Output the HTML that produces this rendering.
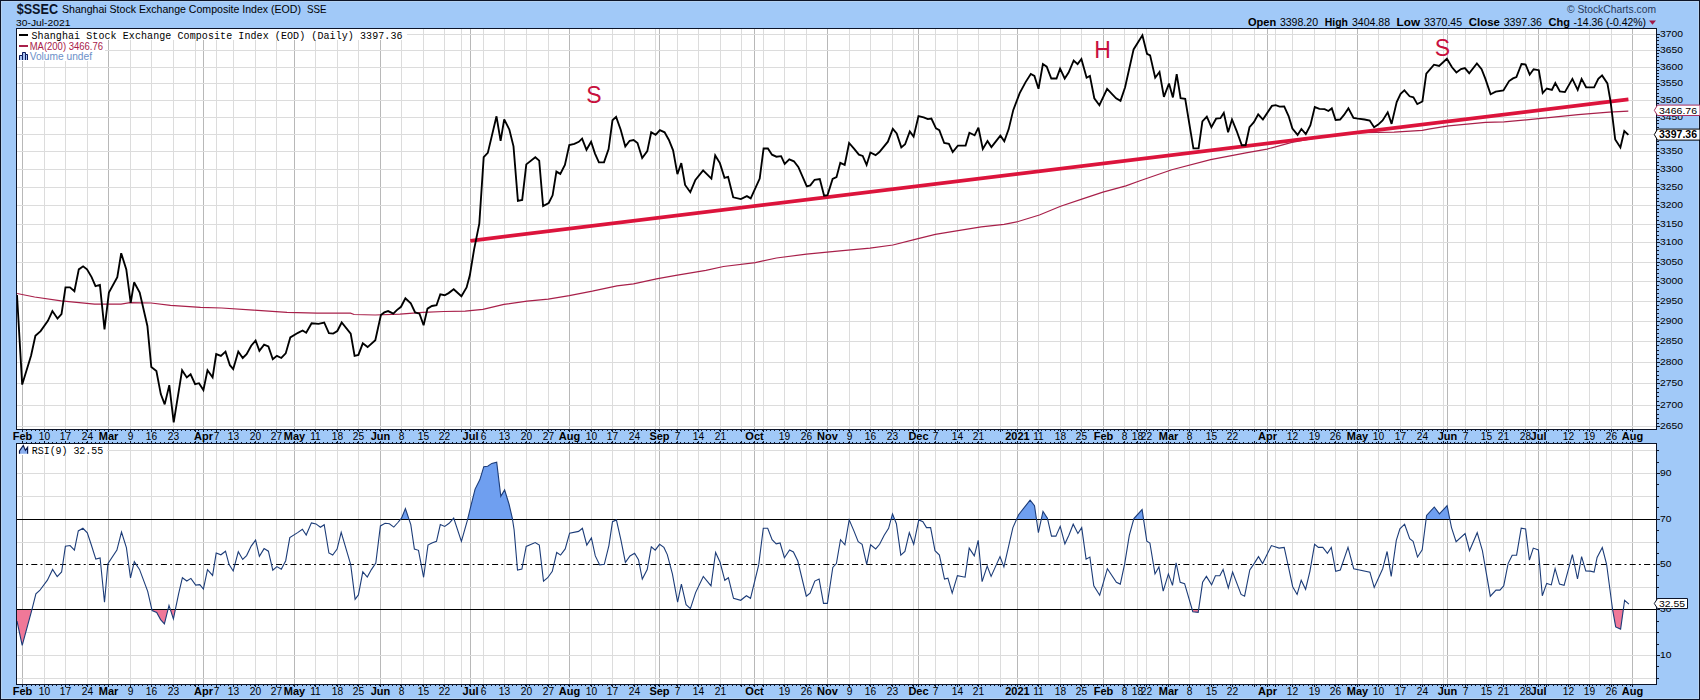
<!DOCTYPE html><html><head><meta charset="utf-8"><style>html,body{margin:0;padding:0;width:1700px;height:700px;overflow:hidden;background:#a1c9f8}svg{display:block}text{font-family:"Liberation Sans",sans-serif}.m{font-family:"Liberation Mono",monospace}</style></head><body>
<svg width="1700" height="700" viewBox="0 0 1700 700">
<defs><clipPath id="cp"><rect x="17" y="29" width="1639" height="400"/></clipPath><clipPath id="cr"><rect x="17" y="444" width="1639" height="240"/></clipPath><clipPath id="c70"><rect x="17" y="444" width="1639" height="75"/></clipPath><clipPath id="c30"><rect x="17" y="609.5" width="1639" height="74.5"/></clipPath></defs>
<rect x="0" y="0" width="1700" height="700" fill="#a1c9f8"/>
<rect x="0.5" y="0.5" width="1699" height="699" fill="none" stroke="#0c1428" stroke-width="1"/>
<rect x="1.5" y="1.5" width="1697" height="697" fill="none" stroke="#b6d2f0" stroke-width="1"/>
<rect x="16" y="28" width="1640" height="401" fill="#ffffff"/>
<rect x="16" y="443" width="1640" height="241" fill="#ffffff"/>
<path d="M44.5,28 V429 M44.5,443 V684 M65.5,28 V429 M65.5,443 V684 M87.5,28 V429 M87.5,443 V684 M130.5,28 V429 M130.5,443 V684 M151.5,28 V429 M151.5,443 V684 M173.5,28 V429 M173.5,443 V684 M195.5,28 V429 M195.5,443 V684 M216.5,28 V429 M216.5,443 V684 M233.5,28 V429 M233.5,443 V684 M255.5,28 V429 M255.5,443 V684 M276.5,28 V429 M276.5,443 V684 M315.5,28 V429 M315.5,443 V684 M337.5,28 V429 M337.5,443 V684 M358.5,28 V429 M358.5,443 V684 M401.5,28 V429 M401.5,443 V684 M423.5,28 V429 M423.5,443 V684 M444.5,28 V429 M444.5,443 V684 M461.5,28 V429 M461.5,443 V684 M483.5,28 V429 M483.5,443 V684 M504.5,28 V429 M504.5,443 V684 M526.5,28 V429 M526.5,443 V684 M548.5,28 V429 M548.5,443 V684 M591.5,28 V429 M591.5,443 V684 M612.5,28 V429 M612.5,443 V684 M634.5,28 V429 M634.5,443 V684 M655.5,28 V429 M655.5,443 V684 M677.5,28 V429 M677.5,443 V684 M698.5,28 V429 M698.5,443 V684 M720.5,28 V429 M720.5,443 V684 M741.5,28 V429 M741.5,443 V684 M763.5,28 V429 M763.5,443 V684 M784.5,28 V429 M784.5,443 V684 M806.5,28 V429 M806.5,443 V684 M849.5,28 V429 M849.5,443 V684 M870.5,28 V429 M870.5,443 V684 M892.5,28 V429 M892.5,443 V684 M913.5,28 V429 M913.5,443 V684 M935.5,28 V429 M935.5,443 V684 M957.5,28 V429 M957.5,443 V684 M978.5,28 V429 M978.5,443 V684 M1000.5,28 V429 M1000.5,443 V684 M1038.5,28 V429 M1038.5,443 V684 M1060.5,28 V429 M1060.5,443 V684 M1081.5,28 V429 M1081.5,443 V684 M1124.5,28 V429 M1124.5,443 V684 M1137.5,28 V429 M1137.5,443 V684 M1146.5,28 V429 M1146.5,443 V684 M1189.5,28 V429 M1189.5,443 V684 M1211.5,28 V429 M1211.5,443 V684 M1232.5,28 V429 M1232.5,443 V684 M1254.5,28 V429 M1254.5,443 V684 M1275.5,28 V429 M1275.5,443 V684 M1292.5,28 V429 M1292.5,443 V684 M1314.5,28 V429 M1314.5,443 V684 M1335.5,28 V429 M1335.5,443 V684 M1378.5,28 V429 M1378.5,443 V684 M1400.5,28 V429 M1400.5,443 V684 M1422.5,28 V429 M1422.5,443 V684 M1443.5,28 V429 M1443.5,443 V684 M1465.5,28 V429 M1465.5,443 V684 M1486.5,28 V429 M1486.5,443 V684 M1503.5,28 V429 M1503.5,443 V684 M1525.5,28 V429 M1525.5,443 V684 M1546.5,28 V429 M1546.5,443 V684 M1568.5,28 V429 M1568.5,443 V684 M1589.5,28 V429 M1589.5,443 V684 M1611.5,28 V429 M1611.5,443 V684" stroke="#dcdcdc" stroke-width="1" fill="none"/>
<path d="M22.5,28 V429 M22.5,443 V684 M108.5,28 V429 M108.5,443 V684 M203.5,28 V429 M203.5,443 V684 M294.5,28 V429 M294.5,443 V684 M380.5,28 V429 M380.5,443 V684 M470.5,28 V429 M470.5,443 V684 M569.5,28 V429 M569.5,443 V684 M659.5,28 V429 M659.5,443 V684 M754.5,28 V429 M754.5,443 V684 M827.5,28 V429 M827.5,443 V684 M918.5,28 V429 M918.5,443 V684 M1017.5,28 V429 M1017.5,443 V684 M1103.5,28 V429 M1103.5,443 V684 M1168.5,28 V429 M1168.5,443 V684 M1267.5,28 V429 M1267.5,443 V684 M1357.5,28 V429 M1357.5,443 V684 M1447.5,28 V429 M1447.5,443 V684 M1538.5,28 V429 M1538.5,443 V684 M1632.5,28 V429 M1632.5,443 V684" stroke="#b8b8b8" stroke-width="1" fill="none"/>
<path d="M16,426.5 H1656 M16,405.5 H1656 M16,383.5 H1656 M16,362.5 H1656 M16,341.5 H1656 M16,321.5 H1656 M16,301.5 H1656 M16,281.5 H1656 M16,262.5 H1656 M16,242.5 H1656 M16,224.5 H1656 M16,205.5 H1656 M16,187.5 H1656 M16,169.5 H1656 M16,151.5 H1656 M16,134.5 H1656 M16,117.5 H1656 M16,100.5 H1656 M16,83.5 H1656 M16,67.5 H1656 M16,50.5 H1656 M16,34.5 H1656" stroke="#dcdcdc" stroke-width="1" fill="none"/>
<path d="M16,473.5 H1656 M16,496.5 H1656 M16,542.5 H1656 M16,587.5 H1656 M16,632.5 H1656 M16,655.5 H1656 M16,450.5 H1656 M16,678.5 H1656" stroke="#dcdcdc" stroke-width="1" fill="none"/>
<rect x="17" y="29" width="390" height="11" fill="#fff"/>
<rect x="17" y="40" width="88" height="21" fill="#fff"/>
<rect x="17" y="444" width="90" height="11" fill="#fff"/>
<path clip-path="url(#cp)" d="M17.0,293.5 L34.6,297.0 L61.1,300.9 L94.6,304.1 L121.1,304.1 L129.9,302.6 L151.1,303.0 L170.5,305.3 L200.5,307.4 L221.7,308.0 L253.5,310.1 L287.0,312.4 L317.0,313.2 L350.5,313.2 L354.1,314.5 L375.2,315.0 L399.9,314.1 L422.9,312.4 L444.0,311.5 L465.2,311.1 L482.9,309.4 L504.0,304.4 L527.0,301.2 L548.2,299.1 L569.3,295.6 L592.3,291.2 L617.0,285.9 L633.5,283.8 L656.5,278.8 L675.9,275.3 L705.9,270.4 L723.5,266.5 L755.3,262.6 L776.5,258.0 L806.5,254.1 L840.0,250.8 L870.0,248.2 L892.9,245.0 L914.1,239.7 L935.3,234.4 L956.5,230.9 L981.2,226.8 L1004.1,224.4 L1018.2,221.5 L1039.4,215.0 L1060.6,206.2 L1081.8,199.1 L1102.9,192.1 L1125.9,185.9 L1140.0,180.7 L1171.8,169.7 L1210.6,159.6 L1245.9,152.9 L1267.0,149.1 L1291.8,142.4 L1316.5,137.9 L1334.1,135.3 L1360.6,132.6 L1394.1,132.1 L1422.3,130.4 L1430.0,128.9 L1448.5,125.8 L1485.6,122.4 L1504.1,121.9 L1538.7,118.7 L1578.2,114.7 L1609.1,112.2 L1628.3,111.2" stroke="#a8204a" stroke-width="1.2" fill="none"/>
<line x1="470.3" y1="240.8" x2="1628.4" y2="99.4" stroke="#dc143c" stroke-width="3.8" stroke-linecap="butt"/>
<path clip-path="url(#cp)" d="M17.0,295.0 L22.2,384.6 L31.1,355.4 L35.4,335.7 L40.6,331.1 L47.9,320.9 L52.4,311.1 L57.5,318.5 L61.5,314.1 L65.5,287.3 L70.0,287.3 L74.4,291.2 L78.8,269.4 L83.1,266.3 L87.0,269.4 L91.6,277.1 L95.5,286.1 L99.9,284.9 L104.5,329.3 L108.9,292.6 L117.3,277.1 L121.2,253.2 L126.3,269.4 L130.7,302.9 L134.1,282.3 L139.7,292.6 L147.4,326.0 L151.3,367.1 L156.4,371.0 L160.8,394.1 L164.7,404.4 L169.3,385.1 L173.7,422.4 L182.1,370.2 L186.8,377.4 L190.6,374.3 L195.1,384.2 L199.0,383.2 L203.4,390.1 L207.5,370.3 L212.6,377.3 L216.2,354.1 L220.9,355.9 L225.5,351.6 L229.9,365.2 L233.2,369.1 L238.3,351.6 L242.7,358.0 L246.6,354.1 L251.2,345.7 L255.6,340.5 L259.4,350.8 L264.1,344.6 L268.4,346.4 L272.8,359.3 L276.9,355.9 L281.3,358.0 L285.7,353.4 L290.3,337.4 L298.0,332.8 L302.6,330.5 L306.2,332.8 L311.6,323.3 L318.6,323.8 L324.2,322.5 L328.9,333.1 L333.2,333.6 L337.3,331.0 L341.7,322.5 L350.7,333.6 L354.6,355.9 L358.4,354.9 L362.8,343.3 L367.6,347.1 L375.3,340.2 L380.9,315.0 L384.3,312.4 L388.1,311.1 L393.3,313.7 L397.1,309.9 L401.0,306.8 L405.4,298.3 L410.8,303.4 L415.1,312.4 L419.5,313.7 L423.6,325.3 L427.5,308.6 L431.9,306.0 L436.5,305.2 L440.3,294.4 L444.7,295.2 L448.6,293.1 L453.7,289.3 L461.4,296.2 L466.6,287.5 L469.9,275.1 L474.1,249.3 L479.3,223.6 L483.7,157.2 L487.8,152.9 L496.5,116.3 L500.6,140.8 L504.2,119.4 L509.4,129.7 L513.5,146.4 L517.9,200.9 L522.2,199.9 L526.3,164.4 L535.3,157.2 L539.2,160.6 L543.1,206.1 L548.7,203.0 L552.6,195.3 L556.4,171.6 L560.3,173.9 L564.9,164.9 L569.3,145.1 L574.4,143.9 L578.8,141.8 L582.1,138.7 L586.5,149.8 L591.1,141.8 L595.0,153.6 L598.9,162.4 L604.0,162.4 L608.6,149.0 L612.5,120.2 L616.1,116.9 L620.7,129.7 L625.3,146.4 L629.7,140.8 L633.6,140.0 L637.5,143.0 L642.2,158.0 L647.3,151.1 L651.2,132.3 L655.6,134.9 L659.9,130.2 L664.6,132.3 L668.9,140.0 L673.1,150.3 L677.4,174.2 L681.3,163.1 L685.1,185.0 L690.3,192.2 L695.4,179.9 L703.1,170.3 L711.4,178.6 L715.2,155.4 L719.9,163.1 L724.5,177.8 L728.1,176.8 L733.2,197.3 L740.9,199.1 L746.9,196.1 L750.7,198.4 L759.7,178.6 L763.6,148.5 L767.9,148.5 L772.0,154.7 L776.4,156.7 L781.1,156.2 L784.7,163.9 L789.3,159.3 L793.9,161.3 L798.3,167.0 L806.8,186.3 L810.3,185.4 L814.6,179.8 L819.8,179.0 L824.1,195.7 L827.5,195.2 L832.6,179.0 L836.5,177.2 L840.3,162.8 L844.7,164.9 L849.1,143.0 L854.2,148.9 L858.9,154.6 L862.7,155.9 L866.6,164.9 L870.4,152.5 L875.6,155.1 L879.4,152.0 L887.9,141.7 L892.8,128.9 L896.7,133.5 L901.3,147.4 L905.1,144.3 L909.8,131.4 L913.6,136.6 L918.5,116.0 L923.7,117.3 L927.8,119.1 L931.4,118.6 L936.0,128.3 L939.3,130.1 L944.2,143.0 L948.9,143.8 L952.7,152.0 L957.9,145.6 L965.6,145.6 L969.4,132.7 L974.6,135.3 L978.4,127.6 L982.8,148.9 L987.5,141.0 L991.4,147.1 L1000.4,135.6 L1004.3,141.2 L1008.7,129.1 L1013.3,109.9 L1019.7,93.1 L1025.6,82.1 L1030.8,73.9 L1034.4,75.9 L1038.5,88.8 L1042.9,64.1 L1046.7,66.7 L1051.3,78.5 L1056.5,78.5 L1060.1,68.7 L1064.7,78.5 L1068.6,72.6 L1073.7,60.5 L1077.6,64.1 L1081.4,59.0 L1086.6,77.7 L1089.9,75.9 L1094.3,98.3 L1099.4,105.2 L1107.1,88.8 L1116.1,98.3 L1120.5,100.9 L1125.1,87.2 L1133.6,49.4 L1142.4,35.3 L1147.0,53.8 L1150.1,55.3 L1155.2,77.7 L1159.5,72.0 L1163.9,96.9 L1169.0,83.5 L1172.9,97.4 L1176.7,74.2 L1180.6,98.1 L1185.2,98.9 L1193.4,148.3 L1198.6,148.3 L1202.4,121.3 L1206.8,116.7 L1211.4,127.2 L1216.1,118.7 L1220.4,118.2 L1223.8,112.8 L1228.1,132.3 L1232.0,119.5 L1236.6,130.8 L1241.8,145.2 L1245.6,145.2 L1249.5,127.2 L1253.9,122.1 L1258.2,114.3 L1262.9,119.5 L1271.9,105.9 L1275.7,105.1 L1279.6,106.6 L1284.2,106.4 L1288.6,116.1 L1292.4,128.5 L1297.6,134.9 L1301.4,129.0 L1305.8,134.1 L1310.4,125.1 L1314.8,107.1 L1319.4,108.9 L1324.6,109.2 L1328.4,111.0 L1331.8,108.4 L1335.6,120.0 L1340.1,119.5 L1344.0,114.9 L1348.4,108.4 L1353.5,117.9 L1358.1,118.7 L1364.6,119.5 L1369.7,120.5 L1374.1,127.2 L1378.2,124.6 L1382.6,120.5 L1387.7,112.3 L1391.6,123.9 L1396.7,102.0 L1400.6,93.8 L1404.4,90.4 L1409.6,96.3 L1413.4,97.4 L1417.3,104.1 L1422.4,101.5 L1426.3,73.7 L1434.0,64.7 L1439.1,66.0 L1446.9,58.8 L1452.0,67.3 L1456.4,72.4 L1461.0,69.1 L1464.9,68.1 L1469.2,73.2 L1476.9,63.4 L1481.6,69.1 L1485.4,78.9 L1490.6,94.3 L1495.7,91.7 L1503.4,90.4 L1509.1,81.1 L1513.0,78.4 L1516.4,77.0 L1521.5,64.0 L1525.6,64.5 L1529.7,74.7 L1533.6,69.3 L1538.8,70.2 L1542.7,93.0 L1546.8,88.5 L1551.9,89.8 L1555.3,83.0 L1559.9,91.4 L1564.9,92.1 L1572.4,78.9 L1577.7,89.8 L1581.6,78.9 L1586.1,87.3 L1594.1,87.3 L1598.3,78.9 L1602.1,75.4 L1607.4,83.4 L1610.6,101.7 L1615.2,139.4 L1620.4,147.4 L1624.3,131.0 L1628.4,134.9" stroke="#000" stroke-width="1.85" fill="none" stroke-linejoin="miter" stroke-miterlimit="3"/>
<path clip-path="url(#c70)" d="M17.0,621.0 L22.2,645.3 L32.0,609.3 L35.9,593.9 L39.7,590.5 L47.4,580.2 L52.6,569.4 L57.2,576.6 L61.6,572.0 L65.4,546.3 L70.1,545.5 L74.4,550.1 L78.3,530.9 L82.9,528.3 L87.3,532.9 L91.1,544.2 L95.8,559.1 L100.1,557.9 L104.5,602.3 L107.9,563.8 L116.9,550.1 L121.5,532.1 L126.4,547.6 L130.5,577.9 L134.3,561.7 L139.5,569.4 L147.7,591.3 L152.1,610.6 L156.7,612.4 L160.6,619.6 L164.4,623.9 L169.0,605.4 L173.4,618.8 L178.6,593.9 L182.4,577.7 L186.8,581.0 L190.9,578.4 L195.7,585.1 L199.8,584.6 L203.4,589.0 L207.5,569.7 L212.6,575.4 L216.2,553.0 L220.9,554.8 L225.5,551.2 L229.1,564.6 L233.2,571.0 L238.3,551.7 L242.7,559.4 L246.6,555.6 L251.2,546.1 L255.6,540.1 L259.4,556.3 L264.1,548.6 L268.4,551.2 L272.8,570.2 L276.9,566.6 L281.3,569.2 L285.7,560.7 L289.8,537.6 L298.0,532.4 L302.4,529.3 L306.2,535.0 L311.4,522.9 L316.0,523.9 L320.4,527.3 L324.2,524.7 L328.9,553.0 L332.7,555.1 L337.1,549.1 L341.2,532.4 L350.7,564.6 L355.1,599.3 L358.4,594.9 L362.8,571.8 L367.3,577.0 L371.4,569.6 L375.8,563.1 L380.4,525.9 L385.1,523.3 L389.4,523.8 L393.8,527.1 L397.9,522.5 L401.5,518.1 L405.4,508.6 L410.8,524.6 L414.4,549.0 L418.5,550.3 L423.6,577.3 L428.0,545.1 L431.9,543.1 L436.5,541.3 L440.3,524.6 L444.7,526.4 L449.1,523.3 L453.7,518.1 L461.4,541.3 L467.3,520.7 L470.4,507.9 L475.1,489.1 L479.9,479.6 L483.8,466.7 L487.7,466.2 L491.8,463.4 L496.7,462.1 L500.8,496.3 L504.6,489.9 L509.0,504.0 L512.3,518.1 L514.1,529.7 L517.5,570.1 L521.9,569.1 L526.2,546.4 L535.2,542.6 L539.3,545.1 L543.5,581.1 L547.7,577.7 L552.3,571.3 L556.7,552.5 L560.6,555.1 L565.2,548.9 L569.6,533.2 L578.6,531.4 L582.4,528.3 L586.8,545.1 L591.4,537.9 L595.3,555.9 L599.7,564.9 L604.3,564.3 L608.9,545.6 L612.5,521.7 L616.4,519.9 L621.0,540.4 L625.4,562.3 L630.0,555.9 L634.6,553.3 L638.5,559.7 L642.3,579.0 L647.2,569.5 L651.3,546.9 L655.2,550.2 L659.6,544.3 L663.9,547.4 L667.3,554.6 L672.4,573.9 L677.6,602.1 L681.4,584.1 L686.1,604.7 L690.4,608.6 L695.6,592.6 L703.3,576.4 L711.0,585.9 L715.6,552.5 L720.1,562.3 L724.8,580.3 L728.4,577.7 L733.5,598.3 L740.7,600.3 L746.4,595.7 L750.5,598.3 L758.7,564.9 L763.3,528.3 L767.7,528.3 L772.1,539.7 L776.2,543.8 L780.1,543.0 L784.4,557.7 L789.6,549.9 L793.4,552.0 L797.8,561.0 L806.3,596.2 L810.1,593.1 L814.8,581.1 L819.1,579.0 L823.5,603.4 L827.4,603.4 L832.8,567.4 L836.4,563.6 L840.5,539.7 L844.9,544.8 L849.2,519.9 L853.9,530.9 L858.2,541.7 L862.1,544.3 L866.7,564.3 L870.6,544.8 L875.7,548.9 L879.6,544.3 L884.2,535.3 L888.6,528.3 L892.5,513.9 L896.4,523.7 L900.8,555.1 L904.9,551.5 L909.3,532.7 L913.7,544.3 L918.8,519.9 L922.9,521.7 L926.5,527.6 L930.6,527.6 L935.0,550.7 L939.4,555.1 L944.5,579.0 L947.9,578.2 L952.2,593.1 L957.4,575.7 L965.1,577.2 L969.2,548.1 L974.3,555.9 L978.2,540.4 L982.1,581.6 L987.2,566.1 L991.1,576.4 L1000.0,556.6 L1003.9,566.9 L1012.9,527.6 L1018.6,514.7 L1030.1,500.1 L1034.5,505.7 L1038.4,532.7 L1043.0,511.4 L1047.4,518.1 L1051.5,536.1 L1055.9,536.1 L1060.2,526.3 L1064.9,543.8 L1068.9,535.3 L1073.2,524.2 L1077.9,533.5 L1081.7,527.6 L1086.1,559.2 L1089.9,557.1 L1093.8,585.9 L1099.7,595.2 L1107.4,568.7 L1116.4,582.3 L1120.3,584.1 L1124.7,563.6 L1129.3,535.3 L1133.9,518.6 L1142.1,509.6 L1146.8,541.2 L1149.9,543.0 L1155.0,573.9 L1158.9,566.9 L1163.2,591.1 L1168.4,573.9 L1172.5,585.4 L1176.1,562.8 L1180.2,582.3 L1184.6,583.6 L1192.8,611.7 L1198.2,612.4 L1202.6,582.3 L1206.4,576.4 L1211.6,584.9 L1215.4,575.7 L1219.8,575.7 L1223.1,569.5 L1228.3,588.0 L1232.6,572.0 L1241.1,594.4 L1244.6,596.2 L1249.8,570.0 L1254.1,563.6 L1258.5,556.6 L1262.6,563.6 L1271.4,545.6 L1279.1,548.1 L1284.2,547.4 L1288.3,566.1 L1292.7,586.7 L1297.1,594.4 L1301.2,580.3 L1305.6,589.3 L1309.9,571.3 L1314.6,544.3 L1318.4,547.4 L1322.8,547.4 L1327.4,553.3 L1331.3,547.4 L1335.7,571.3 L1340.3,570.0 L1348.0,547.4 L1353.7,568.7 L1369.9,572.1 L1374.2,587.5 L1382.7,568.7 L1387.1,551.5 L1391.2,576.4 L1396.3,540.4 L1399.9,528.9 L1404.6,524.2 L1409.7,538.6 L1413.1,541.2 L1417.5,557.0 L1422.2,549.9 L1426.6,515.5 L1434.3,507.0 L1439.4,513.9 L1447.1,505.7 L1451.5,527.6 L1456.1,541.7 L1465.1,533.5 L1469.5,550.7 L1477.2,532.7 L1482.4,550.7 L1490.3,596.2 L1496.0,590.1 L1499.9,590.1 L1503.7,585.9 L1508.1,563.6 L1512.2,555.3 L1516.6,555.1 L1521.2,528.1 L1525.6,528.9 L1529.4,560.2 L1533.3,548.1 L1538.4,549.9 L1542.3,595.7 L1546.7,583.4 L1551.3,584.9 L1555.1,568.7 L1559.5,584.1 L1564.1,585.4 L1572.4,554.6 L1577.5,579.0 L1581.6,556.6 L1585.8,571.0 L1590.3,571.1 L1594.1,572.0 L1597.1,557.4 L1602.3,547.5 L1606.6,564.3 L1612.6,609.7 L1615.7,626.9 L1620.6,629.1 L1624.6,600.3 L1628.9,604.1 L1628.9,519.5 L17.0,519.5 Z" fill="#6f9ff0" stroke="none"/>
<path clip-path="url(#c30)" d="M17.0,621.0 L22.2,645.3 L32.0,609.3 L35.9,593.9 L39.7,590.5 L47.4,580.2 L52.6,569.4 L57.2,576.6 L61.6,572.0 L65.4,546.3 L70.1,545.5 L74.4,550.1 L78.3,530.9 L82.9,528.3 L87.3,532.9 L91.1,544.2 L95.8,559.1 L100.1,557.9 L104.5,602.3 L107.9,563.8 L116.9,550.1 L121.5,532.1 L126.4,547.6 L130.5,577.9 L134.3,561.7 L139.5,569.4 L147.7,591.3 L152.1,610.6 L156.7,612.4 L160.6,619.6 L164.4,623.9 L169.0,605.4 L173.4,618.8 L178.6,593.9 L182.4,577.7 L186.8,581.0 L190.9,578.4 L195.7,585.1 L199.8,584.6 L203.4,589.0 L207.5,569.7 L212.6,575.4 L216.2,553.0 L220.9,554.8 L225.5,551.2 L229.1,564.6 L233.2,571.0 L238.3,551.7 L242.7,559.4 L246.6,555.6 L251.2,546.1 L255.6,540.1 L259.4,556.3 L264.1,548.6 L268.4,551.2 L272.8,570.2 L276.9,566.6 L281.3,569.2 L285.7,560.7 L289.8,537.6 L298.0,532.4 L302.4,529.3 L306.2,535.0 L311.4,522.9 L316.0,523.9 L320.4,527.3 L324.2,524.7 L328.9,553.0 L332.7,555.1 L337.1,549.1 L341.2,532.4 L350.7,564.6 L355.1,599.3 L358.4,594.9 L362.8,571.8 L367.3,577.0 L371.4,569.6 L375.8,563.1 L380.4,525.9 L385.1,523.3 L389.4,523.8 L393.8,527.1 L397.9,522.5 L401.5,518.1 L405.4,508.6 L410.8,524.6 L414.4,549.0 L418.5,550.3 L423.6,577.3 L428.0,545.1 L431.9,543.1 L436.5,541.3 L440.3,524.6 L444.7,526.4 L449.1,523.3 L453.7,518.1 L461.4,541.3 L467.3,520.7 L470.4,507.9 L475.1,489.1 L479.9,479.6 L483.8,466.7 L487.7,466.2 L491.8,463.4 L496.7,462.1 L500.8,496.3 L504.6,489.9 L509.0,504.0 L512.3,518.1 L514.1,529.7 L517.5,570.1 L521.9,569.1 L526.2,546.4 L535.2,542.6 L539.3,545.1 L543.5,581.1 L547.7,577.7 L552.3,571.3 L556.7,552.5 L560.6,555.1 L565.2,548.9 L569.6,533.2 L578.6,531.4 L582.4,528.3 L586.8,545.1 L591.4,537.9 L595.3,555.9 L599.7,564.9 L604.3,564.3 L608.9,545.6 L612.5,521.7 L616.4,519.9 L621.0,540.4 L625.4,562.3 L630.0,555.9 L634.6,553.3 L638.5,559.7 L642.3,579.0 L647.2,569.5 L651.3,546.9 L655.2,550.2 L659.6,544.3 L663.9,547.4 L667.3,554.6 L672.4,573.9 L677.6,602.1 L681.4,584.1 L686.1,604.7 L690.4,608.6 L695.6,592.6 L703.3,576.4 L711.0,585.9 L715.6,552.5 L720.1,562.3 L724.8,580.3 L728.4,577.7 L733.5,598.3 L740.7,600.3 L746.4,595.7 L750.5,598.3 L758.7,564.9 L763.3,528.3 L767.7,528.3 L772.1,539.7 L776.2,543.8 L780.1,543.0 L784.4,557.7 L789.6,549.9 L793.4,552.0 L797.8,561.0 L806.3,596.2 L810.1,593.1 L814.8,581.1 L819.1,579.0 L823.5,603.4 L827.4,603.4 L832.8,567.4 L836.4,563.6 L840.5,539.7 L844.9,544.8 L849.2,519.9 L853.9,530.9 L858.2,541.7 L862.1,544.3 L866.7,564.3 L870.6,544.8 L875.7,548.9 L879.6,544.3 L884.2,535.3 L888.6,528.3 L892.5,513.9 L896.4,523.7 L900.8,555.1 L904.9,551.5 L909.3,532.7 L913.7,544.3 L918.8,519.9 L922.9,521.7 L926.5,527.6 L930.6,527.6 L935.0,550.7 L939.4,555.1 L944.5,579.0 L947.9,578.2 L952.2,593.1 L957.4,575.7 L965.1,577.2 L969.2,548.1 L974.3,555.9 L978.2,540.4 L982.1,581.6 L987.2,566.1 L991.1,576.4 L1000.0,556.6 L1003.9,566.9 L1012.9,527.6 L1018.6,514.7 L1030.1,500.1 L1034.5,505.7 L1038.4,532.7 L1043.0,511.4 L1047.4,518.1 L1051.5,536.1 L1055.9,536.1 L1060.2,526.3 L1064.9,543.8 L1068.9,535.3 L1073.2,524.2 L1077.9,533.5 L1081.7,527.6 L1086.1,559.2 L1089.9,557.1 L1093.8,585.9 L1099.7,595.2 L1107.4,568.7 L1116.4,582.3 L1120.3,584.1 L1124.7,563.6 L1129.3,535.3 L1133.9,518.6 L1142.1,509.6 L1146.8,541.2 L1149.9,543.0 L1155.0,573.9 L1158.9,566.9 L1163.2,591.1 L1168.4,573.9 L1172.5,585.4 L1176.1,562.8 L1180.2,582.3 L1184.6,583.6 L1192.8,611.7 L1198.2,612.4 L1202.6,582.3 L1206.4,576.4 L1211.6,584.9 L1215.4,575.7 L1219.8,575.7 L1223.1,569.5 L1228.3,588.0 L1232.6,572.0 L1241.1,594.4 L1244.6,596.2 L1249.8,570.0 L1254.1,563.6 L1258.5,556.6 L1262.6,563.6 L1271.4,545.6 L1279.1,548.1 L1284.2,547.4 L1288.3,566.1 L1292.7,586.7 L1297.1,594.4 L1301.2,580.3 L1305.6,589.3 L1309.9,571.3 L1314.6,544.3 L1318.4,547.4 L1322.8,547.4 L1327.4,553.3 L1331.3,547.4 L1335.7,571.3 L1340.3,570.0 L1348.0,547.4 L1353.7,568.7 L1369.9,572.1 L1374.2,587.5 L1382.7,568.7 L1387.1,551.5 L1391.2,576.4 L1396.3,540.4 L1399.9,528.9 L1404.6,524.2 L1409.7,538.6 L1413.1,541.2 L1417.5,557.0 L1422.2,549.9 L1426.6,515.5 L1434.3,507.0 L1439.4,513.9 L1447.1,505.7 L1451.5,527.6 L1456.1,541.7 L1465.1,533.5 L1469.5,550.7 L1477.2,532.7 L1482.4,550.7 L1490.3,596.2 L1496.0,590.1 L1499.9,590.1 L1503.7,585.9 L1508.1,563.6 L1512.2,555.3 L1516.6,555.1 L1521.2,528.1 L1525.6,528.9 L1529.4,560.2 L1533.3,548.1 L1538.4,549.9 L1542.3,595.7 L1546.7,583.4 L1551.3,584.9 L1555.1,568.7 L1559.5,584.1 L1564.1,585.4 L1572.4,554.6 L1577.5,579.0 L1581.6,556.6 L1585.8,571.0 L1590.3,571.1 L1594.1,572.0 L1597.1,557.4 L1602.3,547.5 L1606.6,564.3 L1612.6,609.7 L1615.7,626.9 L1620.6,629.1 L1624.6,600.3 L1628.9,604.1 L1628.9,609.5 L17.0,609.5 Z" fill="#f07898" stroke="none"/>
<path d="M16,519.5 H1656 M16,609.5 H1656" stroke="#000" stroke-width="1"/>
<path d="M16,564.5 H1656" stroke="#000" stroke-width="1" stroke-dasharray="6,3.2,2,3.2" stroke-dashoffset="-0.9"/>
<path clip-path="url(#cr)" d="M17.0,621.0 L22.2,645.3 L32.0,609.3 L35.9,593.9 L39.7,590.5 L47.4,580.2 L52.6,569.4 L57.2,576.6 L61.6,572.0 L65.4,546.3 L70.1,545.5 L74.4,550.1 L78.3,530.9 L82.9,528.3 L87.3,532.9 L91.1,544.2 L95.8,559.1 L100.1,557.9 L104.5,602.3 L107.9,563.8 L116.9,550.1 L121.5,532.1 L126.4,547.6 L130.5,577.9 L134.3,561.7 L139.5,569.4 L147.7,591.3 L152.1,610.6 L156.7,612.4 L160.6,619.6 L164.4,623.9 L169.0,605.4 L173.4,618.8 L178.6,593.9 L182.4,577.7 L186.8,581.0 L190.9,578.4 L195.7,585.1 L199.8,584.6 L203.4,589.0 L207.5,569.7 L212.6,575.4 L216.2,553.0 L220.9,554.8 L225.5,551.2 L229.1,564.6 L233.2,571.0 L238.3,551.7 L242.7,559.4 L246.6,555.6 L251.2,546.1 L255.6,540.1 L259.4,556.3 L264.1,548.6 L268.4,551.2 L272.8,570.2 L276.9,566.6 L281.3,569.2 L285.7,560.7 L289.8,537.6 L298.0,532.4 L302.4,529.3 L306.2,535.0 L311.4,522.9 L316.0,523.9 L320.4,527.3 L324.2,524.7 L328.9,553.0 L332.7,555.1 L337.1,549.1 L341.2,532.4 L350.7,564.6 L355.1,599.3 L358.4,594.9 L362.8,571.8 L367.3,577.0 L371.4,569.6 L375.8,563.1 L380.4,525.9 L385.1,523.3 L389.4,523.8 L393.8,527.1 L397.9,522.5 L401.5,518.1 L405.4,508.6 L410.8,524.6 L414.4,549.0 L418.5,550.3 L423.6,577.3 L428.0,545.1 L431.9,543.1 L436.5,541.3 L440.3,524.6 L444.7,526.4 L449.1,523.3 L453.7,518.1 L461.4,541.3 L467.3,520.7 L470.4,507.9 L475.1,489.1 L479.9,479.6 L483.8,466.7 L487.7,466.2 L491.8,463.4 L496.7,462.1 L500.8,496.3 L504.6,489.9 L509.0,504.0 L512.3,518.1 L514.1,529.7 L517.5,570.1 L521.9,569.1 L526.2,546.4 L535.2,542.6 L539.3,545.1 L543.5,581.1 L547.7,577.7 L552.3,571.3 L556.7,552.5 L560.6,555.1 L565.2,548.9 L569.6,533.2 L578.6,531.4 L582.4,528.3 L586.8,545.1 L591.4,537.9 L595.3,555.9 L599.7,564.9 L604.3,564.3 L608.9,545.6 L612.5,521.7 L616.4,519.9 L621.0,540.4 L625.4,562.3 L630.0,555.9 L634.6,553.3 L638.5,559.7 L642.3,579.0 L647.2,569.5 L651.3,546.9 L655.2,550.2 L659.6,544.3 L663.9,547.4 L667.3,554.6 L672.4,573.9 L677.6,602.1 L681.4,584.1 L686.1,604.7 L690.4,608.6 L695.6,592.6 L703.3,576.4 L711.0,585.9 L715.6,552.5 L720.1,562.3 L724.8,580.3 L728.4,577.7 L733.5,598.3 L740.7,600.3 L746.4,595.7 L750.5,598.3 L758.7,564.9 L763.3,528.3 L767.7,528.3 L772.1,539.7 L776.2,543.8 L780.1,543.0 L784.4,557.7 L789.6,549.9 L793.4,552.0 L797.8,561.0 L806.3,596.2 L810.1,593.1 L814.8,581.1 L819.1,579.0 L823.5,603.4 L827.4,603.4 L832.8,567.4 L836.4,563.6 L840.5,539.7 L844.9,544.8 L849.2,519.9 L853.9,530.9 L858.2,541.7 L862.1,544.3 L866.7,564.3 L870.6,544.8 L875.7,548.9 L879.6,544.3 L884.2,535.3 L888.6,528.3 L892.5,513.9 L896.4,523.7 L900.8,555.1 L904.9,551.5 L909.3,532.7 L913.7,544.3 L918.8,519.9 L922.9,521.7 L926.5,527.6 L930.6,527.6 L935.0,550.7 L939.4,555.1 L944.5,579.0 L947.9,578.2 L952.2,593.1 L957.4,575.7 L965.1,577.2 L969.2,548.1 L974.3,555.9 L978.2,540.4 L982.1,581.6 L987.2,566.1 L991.1,576.4 L1000.0,556.6 L1003.9,566.9 L1012.9,527.6 L1018.6,514.7 L1030.1,500.1 L1034.5,505.7 L1038.4,532.7 L1043.0,511.4 L1047.4,518.1 L1051.5,536.1 L1055.9,536.1 L1060.2,526.3 L1064.9,543.8 L1068.9,535.3 L1073.2,524.2 L1077.9,533.5 L1081.7,527.6 L1086.1,559.2 L1089.9,557.1 L1093.8,585.9 L1099.7,595.2 L1107.4,568.7 L1116.4,582.3 L1120.3,584.1 L1124.7,563.6 L1129.3,535.3 L1133.9,518.6 L1142.1,509.6 L1146.8,541.2 L1149.9,543.0 L1155.0,573.9 L1158.9,566.9 L1163.2,591.1 L1168.4,573.9 L1172.5,585.4 L1176.1,562.8 L1180.2,582.3 L1184.6,583.6 L1192.8,611.7 L1198.2,612.4 L1202.6,582.3 L1206.4,576.4 L1211.6,584.9 L1215.4,575.7 L1219.8,575.7 L1223.1,569.5 L1228.3,588.0 L1232.6,572.0 L1241.1,594.4 L1244.6,596.2 L1249.8,570.0 L1254.1,563.6 L1258.5,556.6 L1262.6,563.6 L1271.4,545.6 L1279.1,548.1 L1284.2,547.4 L1288.3,566.1 L1292.7,586.7 L1297.1,594.4 L1301.2,580.3 L1305.6,589.3 L1309.9,571.3 L1314.6,544.3 L1318.4,547.4 L1322.8,547.4 L1327.4,553.3 L1331.3,547.4 L1335.7,571.3 L1340.3,570.0 L1348.0,547.4 L1353.7,568.7 L1369.9,572.1 L1374.2,587.5 L1382.7,568.7 L1387.1,551.5 L1391.2,576.4 L1396.3,540.4 L1399.9,528.9 L1404.6,524.2 L1409.7,538.6 L1413.1,541.2 L1417.5,557.0 L1422.2,549.9 L1426.6,515.5 L1434.3,507.0 L1439.4,513.9 L1447.1,505.7 L1451.5,527.6 L1456.1,541.7 L1465.1,533.5 L1469.5,550.7 L1477.2,532.7 L1482.4,550.7 L1490.3,596.2 L1496.0,590.1 L1499.9,590.1 L1503.7,585.9 L1508.1,563.6 L1512.2,555.3 L1516.6,555.1 L1521.2,528.1 L1525.6,528.9 L1529.4,560.2 L1533.3,548.1 L1538.4,549.9 L1542.3,595.7 L1546.7,583.4 L1551.3,584.9 L1555.1,568.7 L1559.5,584.1 L1564.1,585.4 L1572.4,554.6 L1577.5,579.0 L1581.6,556.6 L1585.8,571.0 L1590.3,571.1 L1594.1,572.0 L1597.1,557.4 L1602.3,547.5 L1606.6,564.3 L1612.6,609.7 L1615.7,626.9 L1620.6,629.1 L1624.6,600.3 L1628.9,604.1" stroke="#1c3c78" stroke-width="1.1" fill="none"/>
<rect x="16.5" y="28.5" width="1640" height="401" fill="none" stroke="#0c1428" stroke-width="1"/>
<rect x="16.5" y="443.5" width="1640" height="241" fill="none" stroke="#0c1428" stroke-width="1"/>
<path d="M22.5,430 v1 M22.5,442 v1 M22.5,685 v1 M26.5,430 v1 M26.5,442 v1 M26.5,685 v1 M31.5,430 v1 M31.5,442 v1 M31.5,685 v1 M35.5,430 v1 M35.5,442 v1 M35.5,685 v1 M39.5,430 v1 M39.5,442 v1 M39.5,685 v1 M44.5,430 v1 M44.5,442 v1 M44.5,685 v1 M48.5,430 v1 M48.5,442 v1 M48.5,685 v1 M52.5,430 v1 M52.5,442 v1 M52.5,685 v1 M56.5,430 v1 M56.5,442 v1 M56.5,685 v1 M61.5,430 v1 M61.5,442 v1 M61.5,685 v1 M65.5,430 v1 M65.5,442 v1 M65.5,685 v1 M69.5,430 v1 M69.5,442 v1 M69.5,685 v1 M74.5,430 v1 M74.5,442 v1 M74.5,685 v1 M78.5,430 v1 M78.5,442 v1 M78.5,685 v1 M82.5,430 v1 M82.5,442 v1 M82.5,685 v1 M86.5,430 v1 M86.5,442 v1 M86.5,685 v1 M91.5,430 v1 M91.5,442 v1 M91.5,685 v1 M95.5,430 v1 M95.5,442 v1 M95.5,685 v1 M99.5,430 v1 M99.5,442 v1 M99.5,685 v1 M104.5,430 v1 M104.5,442 v1 M104.5,685 v1 M108.5,430 v1 M108.5,442 v1 M108.5,685 v1 M112.5,430 v1 M112.5,442 v1 M112.5,685 v1 M117.5,430 v1 M117.5,442 v1 M117.5,685 v1 M121.5,430 v1 M121.5,442 v1 M121.5,685 v1 M125.5,430 v1 M125.5,442 v1 M125.5,685 v1 M130.5,430 v1 M130.5,442 v1 M130.5,685 v1 M134.5,430 v1 M134.5,442 v1 M134.5,685 v1 M138.5,430 v1 M138.5,442 v1 M138.5,685 v1 M142.5,430 v1 M142.5,442 v1 M142.5,685 v1 M147.5,430 v1 M147.5,442 v1 M147.5,685 v1 M151.5,430 v1 M151.5,442 v1 M151.5,685 v1 M155.5,430 v1 M155.5,442 v1 M155.5,685 v1 M160.5,430 v1 M160.5,442 v1 M160.5,685 v1 M164.5,430 v1 M164.5,442 v1 M164.5,685 v1 M168.5,430 v1 M168.5,442 v1 M168.5,685 v1 M172.5,430 v1 M172.5,442 v1 M172.5,685 v1 M177.5,430 v1 M177.5,442 v1 M177.5,685 v1 M181.5,430 v1 M181.5,442 v1 M181.5,685 v1 M185.5,430 v1 M185.5,442 v1 M185.5,685 v1 M190.5,430 v1 M190.5,442 v1 M190.5,685 v1 M194.5,430 v1 M194.5,442 v1 M194.5,685 v1 M198.5,430 v1 M198.5,442 v1 M198.5,685 v1 M203.5,430 v1 M203.5,442 v1 M203.5,685 v1 M207.5,430 v1 M207.5,442 v1 M207.5,685 v1 M211.5,430 v1 M211.5,442 v1 M211.5,685 v1 M216.5,430 v1 M216.5,442 v1 M216.5,685 v1 M220.5,430 v1 M220.5,442 v1 M220.5,685 v1 M224.5,430 v1 M224.5,442 v1 M224.5,685 v1 M228.5,430 v1 M228.5,442 v1 M228.5,685 v1 M233.5,430 v1 M233.5,442 v1 M233.5,685 v1 M237.5,430 v1 M237.5,442 v1 M237.5,685 v1 M241.5,430 v1 M241.5,442 v1 M241.5,685 v1 M246.5,430 v1 M246.5,442 v1 M246.5,685 v1 M250.5,430 v1 M250.5,442 v1 M250.5,685 v1 M254.5,430 v1 M254.5,442 v1 M254.5,685 v1 M258.5,430 v1 M258.5,442 v1 M258.5,685 v1 M263.5,430 v1 M263.5,442 v1 M263.5,685 v1 M267.5,430 v1 M267.5,442 v1 M267.5,685 v1 M271.5,430 v1 M271.5,442 v1 M271.5,685 v1 M276.5,430 v1 M276.5,442 v1 M276.5,685 v1 M280.5,430 v1 M280.5,442 v1 M280.5,685 v1 M284.5,430 v1 M284.5,442 v1 M284.5,685 v1 M289.5,430 v1 M289.5,442 v1 M289.5,685 v1 M293.5,430 v1 M293.5,442 v1 M293.5,685 v1 M297.5,430 v1 M297.5,442 v1 M297.5,685 v1 M302.5,430 v1 M302.5,442 v1 M302.5,685 v1 M306.5,430 v1 M306.5,442 v1 M306.5,685 v1 M310.5,430 v1 M310.5,442 v1 M310.5,685 v1 M314.5,430 v1 M314.5,442 v1 M314.5,685 v1 M319.5,430 v1 M319.5,442 v1 M319.5,685 v1 M323.5,430 v1 M323.5,442 v1 M323.5,685 v1 M327.5,430 v1 M327.5,442 v1 M327.5,685 v1 M332.5,430 v1 M332.5,442 v1 M332.5,685 v1 M336.5,430 v1 M336.5,442 v1 M336.5,685 v1 M340.5,430 v1 M340.5,442 v1 M340.5,685 v1 M344.5,430 v1 M344.5,442 v1 M344.5,685 v1 M349.5,430 v1 M349.5,442 v1 M349.5,685 v1 M353.5,430 v1 M353.5,442 v1 M353.5,685 v1 M357.5,430 v1 M357.5,442 v1 M357.5,685 v1 M362.5,430 v1 M362.5,442 v1 M362.5,685 v1 M366.5,430 v1 M366.5,442 v1 M366.5,685 v1 M370.5,430 v1 M370.5,442 v1 M370.5,685 v1 M375.5,430 v1 M375.5,442 v1 M375.5,685 v1 M379.5,430 v1 M379.5,442 v1 M379.5,685 v1 M383.5,430 v1 M383.5,442 v1 M383.5,685 v1 M388.5,430 v1 M388.5,442 v1 M388.5,685 v1 M392.5,430 v1 M392.5,442 v1 M392.5,685 v1 M396.5,430 v1 M396.5,442 v1 M396.5,685 v1 M400.5,430 v1 M400.5,442 v1 M400.5,685 v1 M405.5,430 v1 M405.5,442 v1 M405.5,685 v1 M409.5,430 v1 M409.5,442 v1 M409.5,685 v1 M413.5,430 v1 M413.5,442 v1 M413.5,685 v1 M418.5,430 v1 M418.5,442 v1 M418.5,685 v1 M422.5,430 v1 M422.5,442 v1 M422.5,685 v1 M426.5,430 v1 M426.5,442 v1 M426.5,685 v1 M430.5,430 v1 M430.5,442 v1 M430.5,685 v1 M435.5,430 v1 M435.5,442 v1 M435.5,685 v1 M439.5,430 v1 M439.5,442 v1 M439.5,685 v1 M443.5,430 v1 M443.5,442 v1 M443.5,685 v1 M448.5,430 v1 M448.5,442 v1 M448.5,685 v1 M452.5,430 v1 M452.5,442 v1 M452.5,685 v1 M456.5,430 v1 M456.5,442 v1 M456.5,685 v1 M461.5,430 v1 M461.5,442 v1 M461.5,685 v1 M465.5,430 v1 M465.5,442 v1 M465.5,685 v1 M469.5,430 v1 M469.5,442 v1 M469.5,685 v1 M474.5,430 v1 M474.5,442 v1 M474.5,685 v1 M478.5,430 v1 M478.5,442 v1 M478.5,685 v1 M482.5,430 v1 M482.5,442 v1 M482.5,685 v1 M486.5,430 v1 M486.5,442 v1 M486.5,685 v1 M491.5,430 v1 M491.5,442 v1 M491.5,685 v1 M495.5,430 v1 M495.5,442 v1 M495.5,685 v1 M499.5,430 v1 M499.5,442 v1 M499.5,685 v1 M504.5,430 v1 M504.5,442 v1 M504.5,685 v1 M508.5,430 v1 M508.5,442 v1 M508.5,685 v1 M512.5,430 v1 M512.5,442 v1 M512.5,685 v1 M516.5,430 v1 M516.5,442 v1 M516.5,685 v1 M521.5,430 v1 M521.5,442 v1 M521.5,685 v1 M525.5,430 v1 M525.5,442 v1 M525.5,685 v1 M529.5,430 v1 M529.5,442 v1 M529.5,685 v1 M534.5,430 v1 M534.5,442 v1 M534.5,685 v1 M538.5,430 v1 M538.5,442 v1 M538.5,685 v1 M542.5,430 v1 M542.5,442 v1 M542.5,685 v1 M547.5,430 v1 M547.5,442 v1 M547.5,685 v1 M551.5,430 v1 M551.5,442 v1 M551.5,685 v1 M555.5,430 v1 M555.5,442 v1 M555.5,685 v1 M560.5,430 v1 M560.5,442 v1 M560.5,685 v1 M564.5,430 v1 M564.5,442 v1 M564.5,685 v1 M568.5,430 v1 M568.5,442 v1 M568.5,685 v1 M572.5,430 v1 M572.5,442 v1 M572.5,685 v1 M577.5,430 v1 M577.5,442 v1 M577.5,685 v1 M581.5,430 v1 M581.5,442 v1 M581.5,685 v1 M585.5,430 v1 M585.5,442 v1 M585.5,685 v1 M590.5,430 v1 M590.5,442 v1 M590.5,685 v1 M594.5,430 v1 M594.5,442 v1 M594.5,685 v1 M598.5,430 v1 M598.5,442 v1 M598.5,685 v1 M602.5,430 v1 M602.5,442 v1 M602.5,685 v1 M607.5,430 v1 M607.5,442 v1 M607.5,685 v1 M611.5,430 v1 M611.5,442 v1 M611.5,685 v1 M615.5,430 v1 M615.5,442 v1 M615.5,685 v1 M620.5,430 v1 M620.5,442 v1 M620.5,685 v1 M624.5,430 v1 M624.5,442 v1 M624.5,685 v1 M628.5,430 v1 M628.5,442 v1 M628.5,685 v1 M633.5,430 v1 M633.5,442 v1 M633.5,685 v1 M637.5,430 v1 M637.5,442 v1 M637.5,685 v1 M641.5,430 v1 M641.5,442 v1 M641.5,685 v1 M646.5,430 v1 M646.5,442 v1 M646.5,685 v1 M650.5,430 v1 M650.5,442 v1 M650.5,685 v1 M654.5,430 v1 M654.5,442 v1 M654.5,685 v1 M658.5,430 v1 M658.5,442 v1 M658.5,685 v1 M663.5,430 v1 M663.5,442 v1 M663.5,685 v1 M667.5,430 v1 M667.5,442 v1 M667.5,685 v1 M671.5,430 v1 M671.5,442 v1 M671.5,685 v1 M676.5,430 v1 M676.5,442 v1 M676.5,685 v1 M680.5,430 v1 M680.5,442 v1 M680.5,685 v1 M684.5,430 v1 M684.5,442 v1 M684.5,685 v1 M688.5,430 v1 M688.5,442 v1 M688.5,685 v1 M693.5,430 v1 M693.5,442 v1 M693.5,685 v1 M697.5,430 v1 M697.5,442 v1 M697.5,685 v1 M701.5,430 v1 M701.5,442 v1 M701.5,685 v1 M706.5,430 v1 M706.5,442 v1 M706.5,685 v1 M710.5,430 v1 M710.5,442 v1 M710.5,685 v1 M714.5,430 v1 M714.5,442 v1 M714.5,685 v1 M719.5,430 v1 M719.5,442 v1 M719.5,685 v1 M723.5,430 v1 M723.5,442 v1 M723.5,685 v1 M727.5,430 v1 M727.5,442 v1 M727.5,685 v1 M732.5,430 v1 M732.5,442 v1 M732.5,685 v1 M736.5,430 v1 M736.5,442 v1 M736.5,685 v1 M740.5,430 v1 M740.5,442 v1 M740.5,685 v1 M744.5,430 v1 M744.5,442 v1 M744.5,685 v1 M749.5,430 v1 M749.5,442 v1 M749.5,685 v1 M753.5,430 v1 M753.5,442 v1 M753.5,685 v1 M757.5,430 v1 M757.5,442 v1 M757.5,685 v1 M762.5,430 v1 M762.5,442 v1 M762.5,685 v1 M766.5,430 v1 M766.5,442 v1 M766.5,685 v1 M770.5,430 v1 M770.5,442 v1 M770.5,685 v1 M774.5,430 v1 M774.5,442 v1 M774.5,685 v1 M779.5,430 v1 M779.5,442 v1 M779.5,685 v1 M783.5,430 v1 M783.5,442 v1 M783.5,685 v1 M787.5,430 v1 M787.5,442 v1 M787.5,685 v1 M792.5,430 v1 M792.5,442 v1 M792.5,685 v1 M796.5,430 v1 M796.5,442 v1 M796.5,685 v1 M800.5,430 v1 M800.5,442 v1 M800.5,685 v1 M805.5,430 v1 M805.5,442 v1 M805.5,685 v1 M809.5,430 v1 M809.5,442 v1 M809.5,685 v1 M813.5,430 v1 M813.5,442 v1 M813.5,685 v1 M818.5,430 v1 M818.5,442 v1 M818.5,685 v1 M822.5,430 v1 M822.5,442 v1 M822.5,685 v1 M826.5,430 v1 M826.5,442 v1 M826.5,685 v1 M830.5,430 v1 M830.5,442 v1 M830.5,685 v1 M835.5,430 v1 M835.5,442 v1 M835.5,685 v1 M839.5,430 v1 M839.5,442 v1 M839.5,685 v1 M843.5,430 v1 M843.5,442 v1 M843.5,685 v1 M848.5,430 v1 M848.5,442 v1 M848.5,685 v1 M852.5,430 v1 M852.5,442 v1 M852.5,685 v1 M856.5,430 v1 M856.5,442 v1 M856.5,685 v1 M860.5,430 v1 M860.5,442 v1 M860.5,685 v1 M865.5,430 v1 M865.5,442 v1 M865.5,685 v1 M869.5,430 v1 M869.5,442 v1 M869.5,685 v1 M873.5,430 v1 M873.5,442 v1 M873.5,685 v1 M878.5,430 v1 M878.5,442 v1 M878.5,685 v1 M882.5,430 v1 M882.5,442 v1 M882.5,685 v1 M886.5,430 v1 M886.5,442 v1 M886.5,685 v1 M891.5,430 v1 M891.5,442 v1 M891.5,685 v1 M895.5,430 v1 M895.5,442 v1 M895.5,685 v1 M899.5,430 v1 M899.5,442 v1 M899.5,685 v1 M904.5,430 v1 M904.5,442 v1 M904.5,685 v1 M908.5,430 v1 M908.5,442 v1 M908.5,685 v1 M912.5,430 v1 M912.5,442 v1 M912.5,685 v1 M916.5,430 v1 M916.5,442 v1 M916.5,685 v1 M921.5,430 v1 M921.5,442 v1 M921.5,685 v1 M925.5,430 v1 M925.5,442 v1 M925.5,685 v1 M929.5,430 v1 M929.5,442 v1 M929.5,685 v1 M934.5,430 v1 M934.5,442 v1 M934.5,685 v1 M938.5,430 v1 M938.5,442 v1 M938.5,685 v1 M942.5,430 v1 M942.5,442 v1 M942.5,685 v1 M946.5,430 v1 M946.5,442 v1 M946.5,685 v1 M951.5,430 v1 M951.5,442 v1 M951.5,685 v1 M955.5,430 v1 M955.5,442 v1 M955.5,685 v1 M959.5,430 v1 M959.5,442 v1 M959.5,685 v1 M964.5,430 v1 M964.5,442 v1 M964.5,685 v1 M968.5,430 v1 M968.5,442 v1 M968.5,685 v1 M972.5,430 v1 M972.5,442 v1 M972.5,685 v1 M977.5,430 v1 M977.5,442 v1 M977.5,685 v1 M981.5,430 v1 M981.5,442 v1 M981.5,685 v1 M985.5,430 v1 M985.5,442 v1 M985.5,685 v1 M990.5,430 v1 M990.5,442 v1 M990.5,685 v1 M994.5,430 v1 M994.5,442 v1 M994.5,685 v1 M998.5,430 v1 M998.5,442 v1 M998.5,685 v1 M1002.5,430 v1 M1002.5,442 v1 M1002.5,685 v1 M1007.5,430 v1 M1007.5,442 v1 M1007.5,685 v1 M1011.5,430 v1 M1011.5,442 v1 M1011.5,685 v1 M1015.5,430 v1 M1015.5,442 v1 M1015.5,685 v1 M1020.5,430 v1 M1020.5,442 v1 M1020.5,685 v1 M1024.5,430 v1 M1024.5,442 v1 M1024.5,685 v1 M1028.5,430 v1 M1028.5,442 v1 M1028.5,685 v1 M1032.5,430 v1 M1032.5,442 v1 M1032.5,685 v1 M1037.5,430 v1 M1037.5,442 v1 M1037.5,685 v1 M1041.5,430 v1 M1041.5,442 v1 M1041.5,685 v1 M1045.5,430 v1 M1045.5,442 v1 M1045.5,685 v1 M1050.5,430 v1 M1050.5,442 v1 M1050.5,685 v1 M1054.5,430 v1 M1054.5,442 v1 M1054.5,685 v1 M1058.5,430 v1 M1058.5,442 v1 M1058.5,685 v1 M1063.5,430 v1 M1063.5,442 v1 M1063.5,685 v1 M1067.5,430 v1 M1067.5,442 v1 M1067.5,685 v1 M1071.5,430 v1 M1071.5,442 v1 M1071.5,685 v1 M1076.5,430 v1 M1076.5,442 v1 M1076.5,685 v1 M1080.5,430 v1 M1080.5,442 v1 M1080.5,685 v1 M1084.5,430 v1 M1084.5,442 v1 M1084.5,685 v1 M1088.5,430 v1 M1088.5,442 v1 M1088.5,685 v1 M1093.5,430 v1 M1093.5,442 v1 M1093.5,685 v1 M1097.5,430 v1 M1097.5,442 v1 M1097.5,685 v1 M1101.5,430 v1 M1101.5,442 v1 M1101.5,685 v1 M1106.5,430 v1 M1106.5,442 v1 M1106.5,685 v1 M1110.5,430 v1 M1110.5,442 v1 M1110.5,685 v1 M1114.5,430 v1 M1114.5,442 v1 M1114.5,685 v1 M1118.5,430 v1 M1118.5,442 v1 M1118.5,685 v1 M1123.5,430 v1 M1123.5,442 v1 M1123.5,685 v1 M1127.5,430 v1 M1127.5,442 v1 M1127.5,685 v1 M1131.5,430 v1 M1131.5,442 v1 M1131.5,685 v1 M1136.5,430 v1 M1136.5,442 v1 M1136.5,685 v1 M1140.5,430 v1 M1140.5,442 v1 M1140.5,685 v1 M1144.5,430 v1 M1144.5,442 v1 M1144.5,685 v1 M1149.5,430 v1 M1149.5,442 v1 M1149.5,685 v1 M1153.5,430 v1 M1153.5,442 v1 M1153.5,685 v1 M1157.5,430 v1 M1157.5,442 v1 M1157.5,685 v1 M1162.5,430 v1 M1162.5,442 v1 M1162.5,685 v1 M1166.5,430 v1 M1166.5,442 v1 M1166.5,685 v1 M1170.5,430 v1 M1170.5,442 v1 M1170.5,685 v1 M1174.5,430 v1 M1174.5,442 v1 M1174.5,685 v1 M1179.5,430 v1 M1179.5,442 v1 M1179.5,685 v1 M1183.5,430 v1 M1183.5,442 v1 M1183.5,685 v1 M1187.5,430 v1 M1187.5,442 v1 M1187.5,685 v1 M1192.5,430 v1 M1192.5,442 v1 M1192.5,685 v1 M1196.5,430 v1 M1196.5,442 v1 M1196.5,685 v1 M1200.5,430 v1 M1200.5,442 v1 M1200.5,685 v1 M1204.5,430 v1 M1204.5,442 v1 M1204.5,685 v1 M1209.5,430 v1 M1209.5,442 v1 M1209.5,685 v1 M1213.5,430 v1 M1213.5,442 v1 M1213.5,685 v1 M1217.5,430 v1 M1217.5,442 v1 M1217.5,685 v1 M1222.5,430 v1 M1222.5,442 v1 M1222.5,685 v1 M1226.5,430 v1 M1226.5,442 v1 M1226.5,685 v1 M1230.5,430 v1 M1230.5,442 v1 M1230.5,685 v1 M1235.5,430 v1 M1235.5,442 v1 M1235.5,685 v1 M1239.5,430 v1 M1239.5,442 v1 M1239.5,685 v1 M1243.5,430 v1 M1243.5,442 v1 M1243.5,685 v1 M1248.5,430 v1 M1248.5,442 v1 M1248.5,685 v1 M1252.5,430 v1 M1252.5,442 v1 M1252.5,685 v1 M1256.5,430 v1 M1256.5,442 v1 M1256.5,685 v1 M1260.5,430 v1 M1260.5,442 v1 M1260.5,685 v1 M1265.5,430 v1 M1265.5,442 v1 M1265.5,685 v1 M1269.5,430 v1 M1269.5,442 v1 M1269.5,685 v1 M1273.5,430 v1 M1273.5,442 v1 M1273.5,685 v1 M1278.5,430 v1 M1278.5,442 v1 M1278.5,685 v1 M1282.5,430 v1 M1282.5,442 v1 M1282.5,685 v1 M1286.5,430 v1 M1286.5,442 v1 M1286.5,685 v1 M1290.5,430 v1 M1290.5,442 v1 M1290.5,685 v1 M1295.5,430 v1 M1295.5,442 v1 M1295.5,685 v1 M1299.5,430 v1 M1299.5,442 v1 M1299.5,685 v1 M1303.5,430 v1 M1303.5,442 v1 M1303.5,685 v1 M1308.5,430 v1 M1308.5,442 v1 M1308.5,685 v1 M1312.5,430 v1 M1312.5,442 v1 M1312.5,685 v1 M1316.5,430 v1 M1316.5,442 v1 M1316.5,685 v1 M1321.5,430 v1 M1321.5,442 v1 M1321.5,685 v1 M1325.5,430 v1 M1325.5,442 v1 M1325.5,685 v1 M1329.5,430 v1 M1329.5,442 v1 M1329.5,685 v1 M1334.5,430 v1 M1334.5,442 v1 M1334.5,685 v1 M1338.5,430 v1 M1338.5,442 v1 M1338.5,685 v1 M1342.5,430 v1 M1342.5,442 v1 M1342.5,685 v1 M1346.5,430 v1 M1346.5,442 v1 M1346.5,685 v1 M1351.5,430 v1 M1351.5,442 v1 M1351.5,685 v1 M1355.5,430 v1 M1355.5,442 v1 M1355.5,685 v1 M1359.5,430 v1 M1359.5,442 v1 M1359.5,685 v1 M1364.5,430 v1 M1364.5,442 v1 M1364.5,685 v1 M1368.5,430 v1 M1368.5,442 v1 M1368.5,685 v1 M1372.5,430 v1 M1372.5,442 v1 M1372.5,685 v1 M1376.5,430 v1 M1376.5,442 v1 M1376.5,685 v1 M1381.5,430 v1 M1381.5,442 v1 M1381.5,685 v1 M1385.5,430 v1 M1385.5,442 v1 M1385.5,685 v1 M1389.5,430 v1 M1389.5,442 v1 M1389.5,685 v1 M1394.5,430 v1 M1394.5,442 v1 M1394.5,685 v1 M1398.5,430 v1 M1398.5,442 v1 M1398.5,685 v1 M1402.5,430 v1 M1402.5,442 v1 M1402.5,685 v1 M1407.5,430 v1 M1407.5,442 v1 M1407.5,685 v1 M1411.5,430 v1 M1411.5,442 v1 M1411.5,685 v1 M1415.5,430 v1 M1415.5,442 v1 M1415.5,685 v1 M1420.5,430 v1 M1420.5,442 v1 M1420.5,685 v1 M1424.5,430 v1 M1424.5,442 v1 M1424.5,685 v1 M1428.5,430 v1 M1428.5,442 v1 M1428.5,685 v1 M1432.5,430 v1 M1432.5,442 v1 M1432.5,685 v1 M1437.5,430 v1 M1437.5,442 v1 M1437.5,685 v1 M1441.5,430 v1 M1441.5,442 v1 M1441.5,685 v1 M1445.5,430 v1 M1445.5,442 v1 M1445.5,685 v1 M1450.5,430 v1 M1450.5,442 v1 M1450.5,685 v1 M1454.5,430 v1 M1454.5,442 v1 M1454.5,685 v1 M1458.5,430 v1 M1458.5,442 v1 M1458.5,685 v1 M1462.5,430 v1 M1462.5,442 v1 M1462.5,685 v1 M1467.5,430 v1 M1467.5,442 v1 M1467.5,685 v1 M1471.5,430 v1 M1471.5,442 v1 M1471.5,685 v1 M1475.5,430 v1 M1475.5,442 v1 M1475.5,685 v1 M1480.5,430 v1 M1480.5,442 v1 M1480.5,685 v1 M1484.5,430 v1 M1484.5,442 v1 M1484.5,685 v1 M1488.5,430 v1 M1488.5,442 v1 M1488.5,685 v1 M1493.5,430 v1 M1493.5,442 v1 M1493.5,685 v1 M1497.5,430 v1 M1497.5,442 v1 M1497.5,685 v1 M1501.5,430 v1 M1501.5,442 v1 M1501.5,685 v1 M1506.5,430 v1 M1506.5,442 v1 M1506.5,685 v1 M1510.5,430 v1 M1510.5,442 v1 M1510.5,685 v1 M1514.5,430 v1 M1514.5,442 v1 M1514.5,685 v1 M1518.5,430 v1 M1518.5,442 v1 M1518.5,685 v1 M1523.5,430 v1 M1523.5,442 v1 M1523.5,685 v1 M1527.5,430 v1 M1527.5,442 v1 M1527.5,685 v1 M1531.5,430 v1 M1531.5,442 v1 M1531.5,685 v1 M1536.5,430 v1 M1536.5,442 v1 M1536.5,685 v1 M1540.5,430 v1 M1540.5,442 v1 M1540.5,685 v1 M1544.5,430 v1 M1544.5,442 v1 M1544.5,685 v1 M1548.5,430 v1 M1548.5,442 v1 M1548.5,685 v1 M1553.5,430 v1 M1553.5,442 v1 M1553.5,685 v1 M1557.5,430 v1 M1557.5,442 v1 M1557.5,685 v1 M1561.5,430 v1 M1561.5,442 v1 M1561.5,685 v1 M1566.5,430 v1 M1566.5,442 v1 M1566.5,685 v1 M1570.5,430 v1 M1570.5,442 v1 M1570.5,685 v1 M1574.5,430 v1 M1574.5,442 v1 M1574.5,685 v1 M1579.5,430 v1 M1579.5,442 v1 M1579.5,685 v1 M1583.5,430 v1 M1583.5,442 v1 M1583.5,685 v1 M1587.5,430 v1 M1587.5,442 v1 M1587.5,685 v1 M1592.5,430 v1 M1592.5,442 v1 M1592.5,685 v1 M1596.5,430 v1 M1596.5,442 v1 M1596.5,685 v1 M1600.5,430 v1 M1600.5,442 v1 M1600.5,685 v1 M1604.5,430 v1 M1604.5,442 v1 M1604.5,685 v1 M1609.5,430 v1 M1609.5,442 v1 M1609.5,685 v1 M1613.5,430 v1 M1613.5,442 v1 M1613.5,685 v1 M1617.5,430 v1 M1617.5,442 v1 M1617.5,685 v1 M1622.5,430 v1 M1622.5,442 v1 M1622.5,685 v1 M1626.5,430 v1 M1626.5,442 v1 M1626.5,685 v1 M1630.5,430 v1 M1630.5,442 v1 M1630.5,685 v1 M22.5,430 v2 M22.5,441 v2 M22.5,685 v2 M44.5,430 v2 M44.5,441 v2 M44.5,685 v2 M65.5,430 v2 M65.5,441 v2 M65.5,685 v2 M87.5,430 v2 M87.5,441 v2 M87.5,685 v2 M108.5,430 v2 M108.5,441 v2 M108.5,685 v2 M130.5,430 v2 M130.5,441 v2 M130.5,685 v2 M151.5,430 v2 M151.5,441 v2 M151.5,685 v2 M173.5,430 v2 M173.5,441 v2 M173.5,685 v2 M195.5,430 v2 M195.5,441 v2 M195.5,685 v2 M203.5,430 v2 M203.5,441 v2 M203.5,685 v2 M216.5,430 v2 M216.5,441 v2 M216.5,685 v2 M233.5,430 v2 M233.5,441 v2 M233.5,685 v2 M255.5,430 v2 M255.5,441 v2 M255.5,685 v2 M276.5,430 v2 M276.5,441 v2 M276.5,685 v2 M294.5,430 v2 M294.5,441 v2 M294.5,685 v2 M315.5,430 v2 M315.5,441 v2 M315.5,685 v2 M337.5,430 v2 M337.5,441 v2 M337.5,685 v2 M358.5,430 v2 M358.5,441 v2 M358.5,685 v2 M380.5,430 v2 M380.5,441 v2 M380.5,685 v2 M401.5,430 v2 M401.5,441 v2 M401.5,685 v2 M423.5,430 v2 M423.5,441 v2 M423.5,685 v2 M444.5,430 v2 M444.5,441 v2 M444.5,685 v2 M461.5,430 v2 M461.5,441 v2 M461.5,685 v2 M470.5,430 v2 M470.5,441 v2 M470.5,685 v2 M483.5,430 v2 M483.5,441 v2 M483.5,685 v2 M504.5,430 v2 M504.5,441 v2 M504.5,685 v2 M526.5,430 v2 M526.5,441 v2 M526.5,685 v2 M548.5,430 v2 M548.5,441 v2 M548.5,685 v2 M569.5,430 v2 M569.5,441 v2 M569.5,685 v2 M591.5,430 v2 M591.5,441 v2 M591.5,685 v2 M612.5,430 v2 M612.5,441 v2 M612.5,685 v2 M634.5,430 v2 M634.5,441 v2 M634.5,685 v2 M655.5,430 v2 M655.5,441 v2 M655.5,685 v2 M659.5,430 v2 M659.5,441 v2 M659.5,685 v2 M677.5,430 v2 M677.5,441 v2 M677.5,685 v2 M698.5,430 v2 M698.5,441 v2 M698.5,685 v2 M720.5,430 v2 M720.5,441 v2 M720.5,685 v2 M741.5,430 v2 M741.5,441 v2 M741.5,685 v2 M754.5,430 v2 M754.5,441 v2 M754.5,685 v2 M763.5,430 v2 M763.5,441 v2 M763.5,685 v2 M784.5,430 v2 M784.5,441 v2 M784.5,685 v2 M806.5,430 v2 M806.5,441 v2 M806.5,685 v2 M827.5,430 v2 M827.5,441 v2 M827.5,685 v2 M849.5,430 v2 M849.5,441 v2 M849.5,685 v2 M870.5,430 v2 M870.5,441 v2 M870.5,685 v2 M892.5,430 v2 M892.5,441 v2 M892.5,685 v2 M913.5,430 v2 M913.5,441 v2 M913.5,685 v2 M918.5,430 v2 M918.5,441 v2 M918.5,685 v2 M935.5,430 v2 M935.5,441 v2 M935.5,685 v2 M957.5,430 v2 M957.5,441 v2 M957.5,685 v2 M978.5,430 v2 M978.5,441 v2 M978.5,685 v2 M1000.5,430 v2 M1000.5,441 v2 M1000.5,685 v2 M1017.5,430 v2 M1017.5,441 v2 M1017.5,685 v2 M1038.5,430 v2 M1038.5,441 v2 M1038.5,685 v2 M1060.5,430 v2 M1060.5,441 v2 M1060.5,685 v2 M1081.5,430 v2 M1081.5,441 v2 M1081.5,685 v2 M1103.5,430 v2 M1103.5,441 v2 M1103.5,685 v2 M1124.5,430 v2 M1124.5,441 v2 M1124.5,685 v2 M1137.5,430 v2 M1137.5,441 v2 M1137.5,685 v2 M1146.5,430 v2 M1146.5,441 v2 M1146.5,685 v2 M1168.5,430 v2 M1168.5,441 v2 M1168.5,685 v2 M1189.5,430 v2 M1189.5,441 v2 M1189.5,685 v2 M1211.5,430 v2 M1211.5,441 v2 M1211.5,685 v2 M1232.5,430 v2 M1232.5,441 v2 M1232.5,685 v2 M1254.5,430 v2 M1254.5,441 v2 M1254.5,685 v2 M1267.5,430 v2 M1267.5,441 v2 M1267.5,685 v2 M1275.5,430 v2 M1275.5,441 v2 M1275.5,685 v2 M1292.5,430 v2 M1292.5,441 v2 M1292.5,685 v2 M1314.5,430 v2 M1314.5,441 v2 M1314.5,685 v2 M1335.5,430 v2 M1335.5,441 v2 M1335.5,685 v2 M1357.5,430 v2 M1357.5,441 v2 M1357.5,685 v2 M1378.5,430 v2 M1378.5,441 v2 M1378.5,685 v2 M1400.5,430 v2 M1400.5,441 v2 M1400.5,685 v2 M1422.5,430 v2 M1422.5,441 v2 M1422.5,685 v2 M1443.5,430 v2 M1443.5,441 v2 M1443.5,685 v2 M1447.5,430 v2 M1447.5,441 v2 M1447.5,685 v2 M1465.5,430 v2 M1465.5,441 v2 M1465.5,685 v2 M1486.5,430 v2 M1486.5,441 v2 M1486.5,685 v2 M1503.5,430 v2 M1503.5,441 v2 M1503.5,685 v2 M1525.5,430 v2 M1525.5,441 v2 M1525.5,685 v2 M1538.5,430 v2 M1538.5,441 v2 M1538.5,685 v2 M1546.5,430 v2 M1546.5,441 v2 M1546.5,685 v2 M1568.5,430 v2 M1568.5,441 v2 M1568.5,685 v2 M1589.5,430 v2 M1589.5,441 v2 M1589.5,685 v2 M1611.5,430 v2 M1611.5,441 v2 M1611.5,685 v2 M1632.5,430 v2 M1632.5,441 v2 M1632.5,685 v2" stroke="#0c1428" stroke-width="1" fill="none"/>
<path d="M1657,426.5 h3 M1657,423.5 h2 M1657,418.5 h2 M1657,414.5 h2 M1657,409.5 h2 M1657,405.5 h3 M1657,401.5 h2 M1657,396.5 h2 M1657,392.5 h2 M1657,388.5 h2 M1657,383.5 h3 M1657,379.5 h2 M1657,375.5 h2 M1657,371.5 h2 M1657,366.5 h2 M1657,362.5 h3 M1657,358.5 h2 M1657,354.5 h2 M1657,350.5 h2 M1657,345.5 h2 M1657,341.5 h3 M1657,337.5 h2 M1657,333.5 h2 M1657,329.5 h2 M1657,325.5 h2 M1657,321.5 h3 M1657,317.5 h2 M1657,313.5 h2 M1657,309.5 h2 M1657,305.5 h2 M1657,301.5 h3 M1657,297.5 h2 M1657,293.5 h2 M1657,289.5 h2 M1657,285.5 h2 M1657,281.5 h3 M1657,277.5 h2 M1657,273.5 h2 M1657,269.5 h2 M1657,265.5 h2 M1657,262.5 h3 M1657,258.5 h2 M1657,254.5 h2 M1657,250.5 h2 M1657,246.5 h2 M1657,242.5 h3 M1657,239.5 h2 M1657,235.5 h2 M1657,231.5 h2 M1657,227.5 h2 M1657,224.5 h3 M1657,220.5 h2 M1657,216.5 h2 M1657,212.5 h2 M1657,209.5 h2 M1657,205.5 h3 M1657,201.5 h2 M1657,198.5 h2 M1657,194.5 h2 M1657,190.5 h2 M1657,187.5 h3 M1657,183.5 h2 M1657,179.5 h2 M1657,176.5 h2 M1657,172.5 h2 M1657,169.5 h3 M1657,165.5 h2 M1657,162.5 h2 M1657,158.5 h2 M1657,155.5 h2 M1657,151.5 h3 M1657,148.5 h2 M1657,144.5 h2 M1657,141.5 h2 M1657,137.5 h2 M1657,134.5 h3 M1657,130.5 h2 M1657,127.5 h2 M1657,123.5 h2 M1657,120.5 h2 M1657,117.5 h3 M1657,113.5 h2 M1657,110.5 h2 M1657,106.5 h2 M1657,103.5 h2 M1657,100.5 h3 M1657,96.5 h2 M1657,93.5 h2 M1657,89.5 h2 M1657,86.5 h2 M1657,83.5 h3 M1657,79.5 h2 M1657,76.5 h2 M1657,73.5 h2 M1657,70.5 h2 M1657,67.5 h3 M1657,63.5 h2 M1657,60.5 h2 M1657,56.5 h2 M1657,53.5 h2 M1657,50.5 h3 M1657,47.5 h2 M1657,44.5 h2 M1657,40.5 h2 M1657,37.5 h2 M1657,34.5 h3 M1657,678.5 h2 M1657,666.5 h2 M1657,655.5 h3 M1657,644.5 h2 M1657,632.5 h2 M1657,621.5 h2 M1657,609.5 h3 M1657,598.5 h2 M1657,587.5 h2 M1657,575.5 h2 M1657,564.5 h3 M1657,553.5 h2 M1657,542.5 h2 M1657,530.5 h2 M1657,519.5 h3 M1657,507.5 h2 M1657,496.5 h2 M1657,484.5 h2 M1657,473.5 h3 M1657,462.5 h2 M1657,450.5 h2" stroke="#0c1428" stroke-width="1" fill="none"/>
<text x="1660" y="429" font-size="9.6" textLength="23" lengthAdjust="spacingAndGlyphs" fill="#000">2650</text>
<text x="1660" y="408" font-size="9.6" textLength="23" lengthAdjust="spacingAndGlyphs" fill="#000">2700</text>
<text x="1660" y="386" font-size="9.6" textLength="23" lengthAdjust="spacingAndGlyphs" fill="#000">2750</text>
<text x="1660" y="365" font-size="9.6" textLength="23" lengthAdjust="spacingAndGlyphs" fill="#000">2800</text>
<text x="1660" y="344" font-size="9.6" textLength="23" lengthAdjust="spacingAndGlyphs" fill="#000">2850</text>
<text x="1660" y="324" font-size="9.6" textLength="23" lengthAdjust="spacingAndGlyphs" fill="#000">2900</text>
<text x="1660" y="304" font-size="9.6" textLength="23" lengthAdjust="spacingAndGlyphs" fill="#000">2950</text>
<text x="1660" y="284" font-size="9.6" textLength="23" lengthAdjust="spacingAndGlyphs" fill="#000">3000</text>
<text x="1660" y="265" font-size="9.6" textLength="23" lengthAdjust="spacingAndGlyphs" fill="#000">3050</text>
<text x="1660" y="245" font-size="9.6" textLength="23" lengthAdjust="spacingAndGlyphs" fill="#000">3100</text>
<text x="1660" y="227" font-size="9.6" textLength="23" lengthAdjust="spacingAndGlyphs" fill="#000">3150</text>
<text x="1660" y="208" font-size="9.6" textLength="23" lengthAdjust="spacingAndGlyphs" fill="#000">3200</text>
<text x="1660" y="190" font-size="9.6" textLength="23" lengthAdjust="spacingAndGlyphs" fill="#000">3250</text>
<text x="1660" y="172" font-size="9.6" textLength="23" lengthAdjust="spacingAndGlyphs" fill="#000">3300</text>
<text x="1660" y="154" font-size="9.6" textLength="23" lengthAdjust="spacingAndGlyphs" fill="#000">3350</text>
<text x="1660" y="137" font-size="9.6" textLength="23" lengthAdjust="spacingAndGlyphs" fill="#000">3400</text>
<text x="1660" y="103" font-size="9.6" textLength="23" lengthAdjust="spacingAndGlyphs" fill="#000">3500</text>
<text x="1660" y="86" font-size="9.6" textLength="23" lengthAdjust="spacingAndGlyphs" fill="#000">3550</text>
<text x="1660" y="70" font-size="9.6" textLength="23" lengthAdjust="spacingAndGlyphs" fill="#000">3600</text>
<text x="1660" y="53" font-size="9.6" textLength="23" lengthAdjust="spacingAndGlyphs" fill="#000">3650</text>
<text x="1660" y="37" font-size="9.6" textLength="23" lengthAdjust="spacingAndGlyphs" fill="#000">3700</text>
<text x="1660" y="120" font-size="9.6" textLength="23" lengthAdjust="spacingAndGlyphs" fill="#000">3450</text>
<text x="1660" y="476" font-size="9.6" textLength="11.5" lengthAdjust="spacingAndGlyphs" fill="#000">90</text>
<text x="1660" y="522" font-size="9.6" textLength="11.5" lengthAdjust="spacingAndGlyphs" fill="#000">70</text>
<text x="1660" y="567" font-size="9.6" textLength="11.5" lengthAdjust="spacingAndGlyphs" fill="#000">50</text>
<text x="1660" y="612" font-size="9.6" textLength="11.5" lengthAdjust="spacingAndGlyphs" fill="#000">30</text>
<text x="1660" y="658" font-size="9.6" textLength="11.5" lengthAdjust="spacingAndGlyphs" fill="#000">10</text>
<text x="22.5" y="440" font-size="11" font-weight="bold" text-anchor="middle" fill="#000">Feb</text>
<text x="22.5" y="695" font-size="11" font-weight="bold" text-anchor="middle" fill="#000">Feb</text>
<text x="44.5" y="440" font-size="10.2" text-anchor="middle" fill="#000">10</text>
<text x="44.5" y="695" font-size="10.2" text-anchor="middle" fill="#000">10</text>
<text x="65.5" y="440" font-size="10.2" text-anchor="middle" fill="#000">17</text>
<text x="65.5" y="695" font-size="10.2" text-anchor="middle" fill="#000">17</text>
<text x="87.5" y="440" font-size="10.2" text-anchor="middle" fill="#000">24</text>
<text x="87.5" y="695" font-size="10.2" text-anchor="middle" fill="#000">24</text>
<text x="108.5" y="440" font-size="11" font-weight="bold" text-anchor="middle" fill="#000">Mar</text>
<text x="108.5" y="695" font-size="11" font-weight="bold" text-anchor="middle" fill="#000">Mar</text>
<text x="130.5" y="440" font-size="10.2" text-anchor="middle" fill="#000">9</text>
<text x="130.5" y="695" font-size="10.2" text-anchor="middle" fill="#000">9</text>
<text x="151.5" y="440" font-size="10.2" text-anchor="middle" fill="#000">16</text>
<text x="151.5" y="695" font-size="10.2" text-anchor="middle" fill="#000">16</text>
<text x="173.5" y="440" font-size="10.2" text-anchor="middle" fill="#000">23</text>
<text x="173.5" y="695" font-size="10.2" text-anchor="middle" fill="#000">23</text>
<text x="203.5" y="440" font-size="11" font-weight="bold" text-anchor="middle" fill="#000">Apr</text>
<text x="203.5" y="695" font-size="11" font-weight="bold" text-anchor="middle" fill="#000">Apr</text>
<text x="216.5" y="440" font-size="10.2" text-anchor="middle" fill="#000">7</text>
<text x="216.5" y="695" font-size="10.2" text-anchor="middle" fill="#000">7</text>
<text x="233.5" y="440" font-size="10.2" text-anchor="middle" fill="#000">13</text>
<text x="233.5" y="695" font-size="10.2" text-anchor="middle" fill="#000">13</text>
<text x="255.5" y="440" font-size="10.2" text-anchor="middle" fill="#000">20</text>
<text x="255.5" y="695" font-size="10.2" text-anchor="middle" fill="#000">20</text>
<text x="276.5" y="440" font-size="10.2" text-anchor="middle" fill="#000">27</text>
<text x="276.5" y="695" font-size="10.2" text-anchor="middle" fill="#000">27</text>
<text x="294.5" y="440" font-size="11" font-weight="bold" text-anchor="middle" fill="#000">May</text>
<text x="294.5" y="695" font-size="11" font-weight="bold" text-anchor="middle" fill="#000">May</text>
<text x="315.5" y="440" font-size="10.2" text-anchor="middle" fill="#000">11</text>
<text x="315.5" y="695" font-size="10.2" text-anchor="middle" fill="#000">11</text>
<text x="337.5" y="440" font-size="10.2" text-anchor="middle" fill="#000">18</text>
<text x="337.5" y="695" font-size="10.2" text-anchor="middle" fill="#000">18</text>
<text x="358.5" y="440" font-size="10.2" text-anchor="middle" fill="#000">25</text>
<text x="358.5" y="695" font-size="10.2" text-anchor="middle" fill="#000">25</text>
<text x="380.5" y="440" font-size="11" font-weight="bold" text-anchor="middle" fill="#000">Jun</text>
<text x="380.5" y="695" font-size="11" font-weight="bold" text-anchor="middle" fill="#000">Jun</text>
<text x="401.5" y="440" font-size="10.2" text-anchor="middle" fill="#000">8</text>
<text x="401.5" y="695" font-size="10.2" text-anchor="middle" fill="#000">8</text>
<text x="423.5" y="440" font-size="10.2" text-anchor="middle" fill="#000">15</text>
<text x="423.5" y="695" font-size="10.2" text-anchor="middle" fill="#000">15</text>
<text x="444.5" y="440" font-size="10.2" text-anchor="middle" fill="#000">22</text>
<text x="444.5" y="695" font-size="10.2" text-anchor="middle" fill="#000">22</text>
<text x="470.5" y="440" font-size="11" font-weight="bold" text-anchor="middle" fill="#000">Jul</text>
<text x="470.5" y="695" font-size="11" font-weight="bold" text-anchor="middle" fill="#000">Jul</text>
<text x="483.5" y="440" font-size="10.2" text-anchor="middle" fill="#000">6</text>
<text x="483.5" y="695" font-size="10.2" text-anchor="middle" fill="#000">6</text>
<text x="504.5" y="440" font-size="10.2" text-anchor="middle" fill="#000">13</text>
<text x="504.5" y="695" font-size="10.2" text-anchor="middle" fill="#000">13</text>
<text x="526.5" y="440" font-size="10.2" text-anchor="middle" fill="#000">20</text>
<text x="526.5" y="695" font-size="10.2" text-anchor="middle" fill="#000">20</text>
<text x="548.5" y="440" font-size="10.2" text-anchor="middle" fill="#000">27</text>
<text x="548.5" y="695" font-size="10.2" text-anchor="middle" fill="#000">27</text>
<text x="569.5" y="440" font-size="11" font-weight="bold" text-anchor="middle" fill="#000">Aug</text>
<text x="569.5" y="695" font-size="11" font-weight="bold" text-anchor="middle" fill="#000">Aug</text>
<text x="591.5" y="440" font-size="10.2" text-anchor="middle" fill="#000">10</text>
<text x="591.5" y="695" font-size="10.2" text-anchor="middle" fill="#000">10</text>
<text x="612.5" y="440" font-size="10.2" text-anchor="middle" fill="#000">17</text>
<text x="612.5" y="695" font-size="10.2" text-anchor="middle" fill="#000">17</text>
<text x="634.5" y="440" font-size="10.2" text-anchor="middle" fill="#000">24</text>
<text x="634.5" y="695" font-size="10.2" text-anchor="middle" fill="#000">24</text>
<text x="659.5" y="440" font-size="11" font-weight="bold" text-anchor="middle" fill="#000">Sep</text>
<text x="659.5" y="695" font-size="11" font-weight="bold" text-anchor="middle" fill="#000">Sep</text>
<text x="677.5" y="440" font-size="10.2" text-anchor="middle" fill="#000">7</text>
<text x="677.5" y="695" font-size="10.2" text-anchor="middle" fill="#000">7</text>
<text x="698.5" y="440" font-size="10.2" text-anchor="middle" fill="#000">14</text>
<text x="698.5" y="695" font-size="10.2" text-anchor="middle" fill="#000">14</text>
<text x="720.5" y="440" font-size="10.2" text-anchor="middle" fill="#000">21</text>
<text x="720.5" y="695" font-size="10.2" text-anchor="middle" fill="#000">21</text>
<text x="754.5" y="440" font-size="11" font-weight="bold" text-anchor="middle" fill="#000">Oct</text>
<text x="754.5" y="695" font-size="11" font-weight="bold" text-anchor="middle" fill="#000">Oct</text>
<text x="784.5" y="440" font-size="10.2" text-anchor="middle" fill="#000">19</text>
<text x="784.5" y="695" font-size="10.2" text-anchor="middle" fill="#000">19</text>
<text x="806.5" y="440" font-size="10.2" text-anchor="middle" fill="#000">26</text>
<text x="806.5" y="695" font-size="10.2" text-anchor="middle" fill="#000">26</text>
<text x="827.5" y="440" font-size="11" font-weight="bold" text-anchor="middle" fill="#000">Nov</text>
<text x="827.5" y="695" font-size="11" font-weight="bold" text-anchor="middle" fill="#000">Nov</text>
<text x="849.5" y="440" font-size="10.2" text-anchor="middle" fill="#000">9</text>
<text x="849.5" y="695" font-size="10.2" text-anchor="middle" fill="#000">9</text>
<text x="870.5" y="440" font-size="10.2" text-anchor="middle" fill="#000">16</text>
<text x="870.5" y="695" font-size="10.2" text-anchor="middle" fill="#000">16</text>
<text x="892.5" y="440" font-size="10.2" text-anchor="middle" fill="#000">23</text>
<text x="892.5" y="695" font-size="10.2" text-anchor="middle" fill="#000">23</text>
<text x="918.5" y="440" font-size="11" font-weight="bold" text-anchor="middle" fill="#000">Dec</text>
<text x="918.5" y="695" font-size="11" font-weight="bold" text-anchor="middle" fill="#000">Dec</text>
<text x="935.5" y="440" font-size="10.2" text-anchor="middle" fill="#000">7</text>
<text x="935.5" y="695" font-size="10.2" text-anchor="middle" fill="#000">7</text>
<text x="957.5" y="440" font-size="10.2" text-anchor="middle" fill="#000">14</text>
<text x="957.5" y="695" font-size="10.2" text-anchor="middle" fill="#000">14</text>
<text x="978.5" y="440" font-size="10.2" text-anchor="middle" fill="#000">21</text>
<text x="978.5" y="695" font-size="10.2" text-anchor="middle" fill="#000">21</text>
<text x="1017.5" y="440" font-size="11" font-weight="bold" text-anchor="middle" fill="#000">2021</text>
<text x="1017.5" y="695" font-size="11" font-weight="bold" text-anchor="middle" fill="#000">2021</text>
<text x="1038.5" y="440" font-size="10.2" text-anchor="middle" fill="#000">11</text>
<text x="1038.5" y="695" font-size="10.2" text-anchor="middle" fill="#000">11</text>
<text x="1060.5" y="440" font-size="10.2" text-anchor="middle" fill="#000">18</text>
<text x="1060.5" y="695" font-size="10.2" text-anchor="middle" fill="#000">18</text>
<text x="1081.5" y="440" font-size="10.2" text-anchor="middle" fill="#000">25</text>
<text x="1081.5" y="695" font-size="10.2" text-anchor="middle" fill="#000">25</text>
<text x="1103.5" y="440" font-size="11" font-weight="bold" text-anchor="middle" fill="#000">Feb</text>
<text x="1103.5" y="695" font-size="11" font-weight="bold" text-anchor="middle" fill="#000">Feb</text>
<text x="1124.5" y="440" font-size="10.2" text-anchor="middle" fill="#000">8</text>
<text x="1124.5" y="695" font-size="10.2" text-anchor="middle" fill="#000">8</text>
<text x="1137.5" y="440" font-size="10.2" text-anchor="middle" fill="#000">18</text>
<text x="1137.5" y="695" font-size="10.2" text-anchor="middle" fill="#000">18</text>
<text x="1146.5" y="440" font-size="10.2" text-anchor="middle" fill="#000">22</text>
<text x="1146.5" y="695" font-size="10.2" text-anchor="middle" fill="#000">22</text>
<text x="1168.5" y="440" font-size="11" font-weight="bold" text-anchor="middle" fill="#000">Mar</text>
<text x="1168.5" y="695" font-size="11" font-weight="bold" text-anchor="middle" fill="#000">Mar</text>
<text x="1189.5" y="440" font-size="10.2" text-anchor="middle" fill="#000">8</text>
<text x="1189.5" y="695" font-size="10.2" text-anchor="middle" fill="#000">8</text>
<text x="1211.5" y="440" font-size="10.2" text-anchor="middle" fill="#000">15</text>
<text x="1211.5" y="695" font-size="10.2" text-anchor="middle" fill="#000">15</text>
<text x="1232.5" y="440" font-size="10.2" text-anchor="middle" fill="#000">22</text>
<text x="1232.5" y="695" font-size="10.2" text-anchor="middle" fill="#000">22</text>
<text x="1267.5" y="440" font-size="11" font-weight="bold" text-anchor="middle" fill="#000">Apr</text>
<text x="1267.5" y="695" font-size="11" font-weight="bold" text-anchor="middle" fill="#000">Apr</text>
<text x="1292.5" y="440" font-size="10.2" text-anchor="middle" fill="#000">12</text>
<text x="1292.5" y="695" font-size="10.2" text-anchor="middle" fill="#000">12</text>
<text x="1314.5" y="440" font-size="10.2" text-anchor="middle" fill="#000">19</text>
<text x="1314.5" y="695" font-size="10.2" text-anchor="middle" fill="#000">19</text>
<text x="1335.5" y="440" font-size="10.2" text-anchor="middle" fill="#000">26</text>
<text x="1335.5" y="695" font-size="10.2" text-anchor="middle" fill="#000">26</text>
<text x="1357.5" y="440" font-size="11" font-weight="bold" text-anchor="middle" fill="#000">May</text>
<text x="1357.5" y="695" font-size="11" font-weight="bold" text-anchor="middle" fill="#000">May</text>
<text x="1378.5" y="440" font-size="10.2" text-anchor="middle" fill="#000">10</text>
<text x="1378.5" y="695" font-size="10.2" text-anchor="middle" fill="#000">10</text>
<text x="1400.5" y="440" font-size="10.2" text-anchor="middle" fill="#000">17</text>
<text x="1400.5" y="695" font-size="10.2" text-anchor="middle" fill="#000">17</text>
<text x="1422.5" y="440" font-size="10.2" text-anchor="middle" fill="#000">24</text>
<text x="1422.5" y="695" font-size="10.2" text-anchor="middle" fill="#000">24</text>
<text x="1447.5" y="440" font-size="11" font-weight="bold" text-anchor="middle" fill="#000">Jun</text>
<text x="1447.5" y="695" font-size="11" font-weight="bold" text-anchor="middle" fill="#000">Jun</text>
<text x="1465.5" y="440" font-size="10.2" text-anchor="middle" fill="#000">7</text>
<text x="1465.5" y="695" font-size="10.2" text-anchor="middle" fill="#000">7</text>
<text x="1486.5" y="440" font-size="10.2" text-anchor="middle" fill="#000">15</text>
<text x="1486.5" y="695" font-size="10.2" text-anchor="middle" fill="#000">15</text>
<text x="1503.5" y="440" font-size="10.2" text-anchor="middle" fill="#000">21</text>
<text x="1503.5" y="695" font-size="10.2" text-anchor="middle" fill="#000">21</text>
<text x="1525.5" y="440" font-size="10.2" text-anchor="middle" fill="#000">28</text>
<text x="1525.5" y="695" font-size="10.2" text-anchor="middle" fill="#000">28</text>
<text x="1538.5" y="440" font-size="11" font-weight="bold" text-anchor="middle" fill="#000">Jul</text>
<text x="1538.5" y="695" font-size="11" font-weight="bold" text-anchor="middle" fill="#000">Jul</text>
<text x="1568.5" y="440" font-size="10.2" text-anchor="middle" fill="#000">12</text>
<text x="1568.5" y="695" font-size="10.2" text-anchor="middle" fill="#000">12</text>
<text x="1589.5" y="440" font-size="10.2" text-anchor="middle" fill="#000">19</text>
<text x="1589.5" y="695" font-size="10.2" text-anchor="middle" fill="#000">19</text>
<text x="1611.5" y="440" font-size="10.2" text-anchor="middle" fill="#000">26</text>
<text x="1611.5" y="695" font-size="10.2" text-anchor="middle" fill="#000">26</text>
<text x="1632.5" y="440" font-size="11" font-weight="bold" text-anchor="middle" fill="#000">Aug</text>
<text x="1632.5" y="695" font-size="11" font-weight="bold" text-anchor="middle" fill="#000">Aug</text>
<path d="M1654.3,110.3 L1657.5,105.1 H1700.0 V115.5 H1657.5 Z" fill="#fff" stroke="#a83060" stroke-width="1"/><text x="1659" y="113.6" font-size="9.6" textLength="38.0" lengthAdjust="spacingAndGlyphs"  fill="#000">3466.76</text>
<path d="M1654.3,134.6 L1657.5,129.1 H1700.0 V140.1 H1657.5 Z" fill="#fff" stroke="#000" stroke-width="1"/><text x="1659" y="137.9" font-size="10.0" textLength="38.0" lengthAdjust="spacingAndGlyphs" font-weight="bold" fill="#000">3397.36</text>
<path d="M1654.3,603.5 L1657.5,598.5 H1687.5 V608.5 H1657.5 Z" fill="#fff" stroke="#0c1428" stroke-width="1"/><text x="1659" y="606.8" font-size="9.6" textLength="26.0" lengthAdjust="spacingAndGlyphs"  fill="#000">32.55</text>
<text x="16.7" y="13.6" font-size="14.5" textLength="41.3" lengthAdjust="spacingAndGlyphs" font-weight="bold" fill="#0c1428">$SSEC</text>
<text x="62.0" y="12.9" font-size="11.2" textLength="239.0" lengthAdjust="spacingAndGlyphs"  fill="#000">Shanghai Stock Exchange Composite Index (EOD)</text>
<text x="307.0" y="12.9" font-size="11.2" textLength="19.5" lengthAdjust="spacingAndGlyphs"  fill="#000">SSE</text>
<text x="16.0" y="25.6" font-size="9.6" textLength="54.4" lengthAdjust="spacingAndGlyphs"  fill="#000">30-Jul-2021</text>
<text x="1567.0" y="13.0" font-size="11.0" textLength="89.0" lengthAdjust="spacingAndGlyphs"  fill="#2a3a5a">© StockCharts.com</text>
<text x="1248.0" y="25.6" font-size="10.6" textLength="28.2" lengthAdjust="spacingAndGlyphs" font-weight="bold" fill="#000">Open</text>
<text x="1279.9" y="25.6" font-size="10.6" textLength="38.1" lengthAdjust="spacingAndGlyphs"  fill="#000">3398.20</text>
<text x="1324.8" y="25.6" font-size="10.6" textLength="23.2" lengthAdjust="spacingAndGlyphs" font-weight="bold" fill="#000">High</text>
<text x="1352.0" y="25.6" font-size="10.6" textLength="38.0" lengthAdjust="spacingAndGlyphs"  fill="#000">3404.88</text>
<text x="1396.6" y="25.6" font-size="10.6" textLength="23.4" lengthAdjust="spacingAndGlyphs" font-weight="bold" fill="#000">Low</text>
<text x="1424.0" y="25.6" font-size="10.6" textLength="38.0" lengthAdjust="spacingAndGlyphs"  fill="#000">3370.45</text>
<text x="1468.8" y="25.6" font-size="10.6" textLength="31.0" lengthAdjust="spacingAndGlyphs" font-weight="bold" fill="#000">Close</text>
<text x="1503.7" y="25.6" font-size="10.6" textLength="38.3" lengthAdjust="spacingAndGlyphs"  fill="#000">3397.36</text>
<text x="1548.6" y="25.6" font-size="10.6" textLength="21.4" lengthAdjust="spacingAndGlyphs" font-weight="bold" fill="#000">Chg</text>
<text x="1573.6" y="25.6" font-size="10.6" textLength="72.4" lengthAdjust="spacingAndGlyphs"  fill="#000">-14.36 (-0.42%)</text>
<path d="M1649,20.5 H1656 L1652.5,24.8 Z" fill="#a01848"/>
<rect x="19" y="34" width="9" height="2" fill="#000"/>
<text class="m" x="31.5" y="38.8" font-size="10" textLength="371" lengthAdjust="spacing" fill="#000">Shanghai Stock Exchange Composite Index (EOD) (Daily) 3397.36</text>
<rect x="19" y="45" width="9" height="2" fill="#a8204a"/>
<text x="29.7" y="49.8" font-size="10.0" textLength="73.3" lengthAdjust="spacingAndGlyphs"  fill="#a8204a">MA(200) 3466.76</text>
<rect x="19" y="55" width="9" height="5" fill="#a8c4f4"/><rect x="22" y="52" width="3" height="3" fill="#a8c4f4"/><rect x="25" y="54" width="3" height="1" fill="#a8c4f4"/>
<path d="M19.5,60 V55.5 H22.5 V52.5 H25.5 V54.5 H27.5 V60 M22.5,55.5 V60 M25.5,54.5 V60" fill="none" stroke="#0c1a5a" stroke-width="1"/>
<text x="29.7" y="59.5" font-size="10.0" textLength="62.3" lengthAdjust="spacingAndGlyphs"  fill="#6c90c8">Volume undef</text>
<path d="M19.5,453.8 V451 L23.3,445.5 L25.4,450.4 L27.6,447.3 V453.8 Z" fill="#8cb0f0"/><path d="M19.5,453.8 V451 L23.3,445.5 L25.4,450.4 L27.6,447.3 V453.8" fill="none" stroke="#0a1a50" stroke-width="1.2"/>
<text class="m" x="31.8" y="453.8" font-size="10" textLength="71.4" lengthAdjust="spacing" fill="#000">RSI(9) 32.55</text>
<text x="594" y="102.5" font-size="23" text-anchor="middle" fill="#c8103e">S</text>
<text x="1102.5" y="57.8" font-size="23" text-anchor="middle" fill="#c8103e">H</text>
<text x="1442.3" y="55.6" font-size="23" text-anchor="middle" fill="#c8103e">S</text>
</svg></body></html>
